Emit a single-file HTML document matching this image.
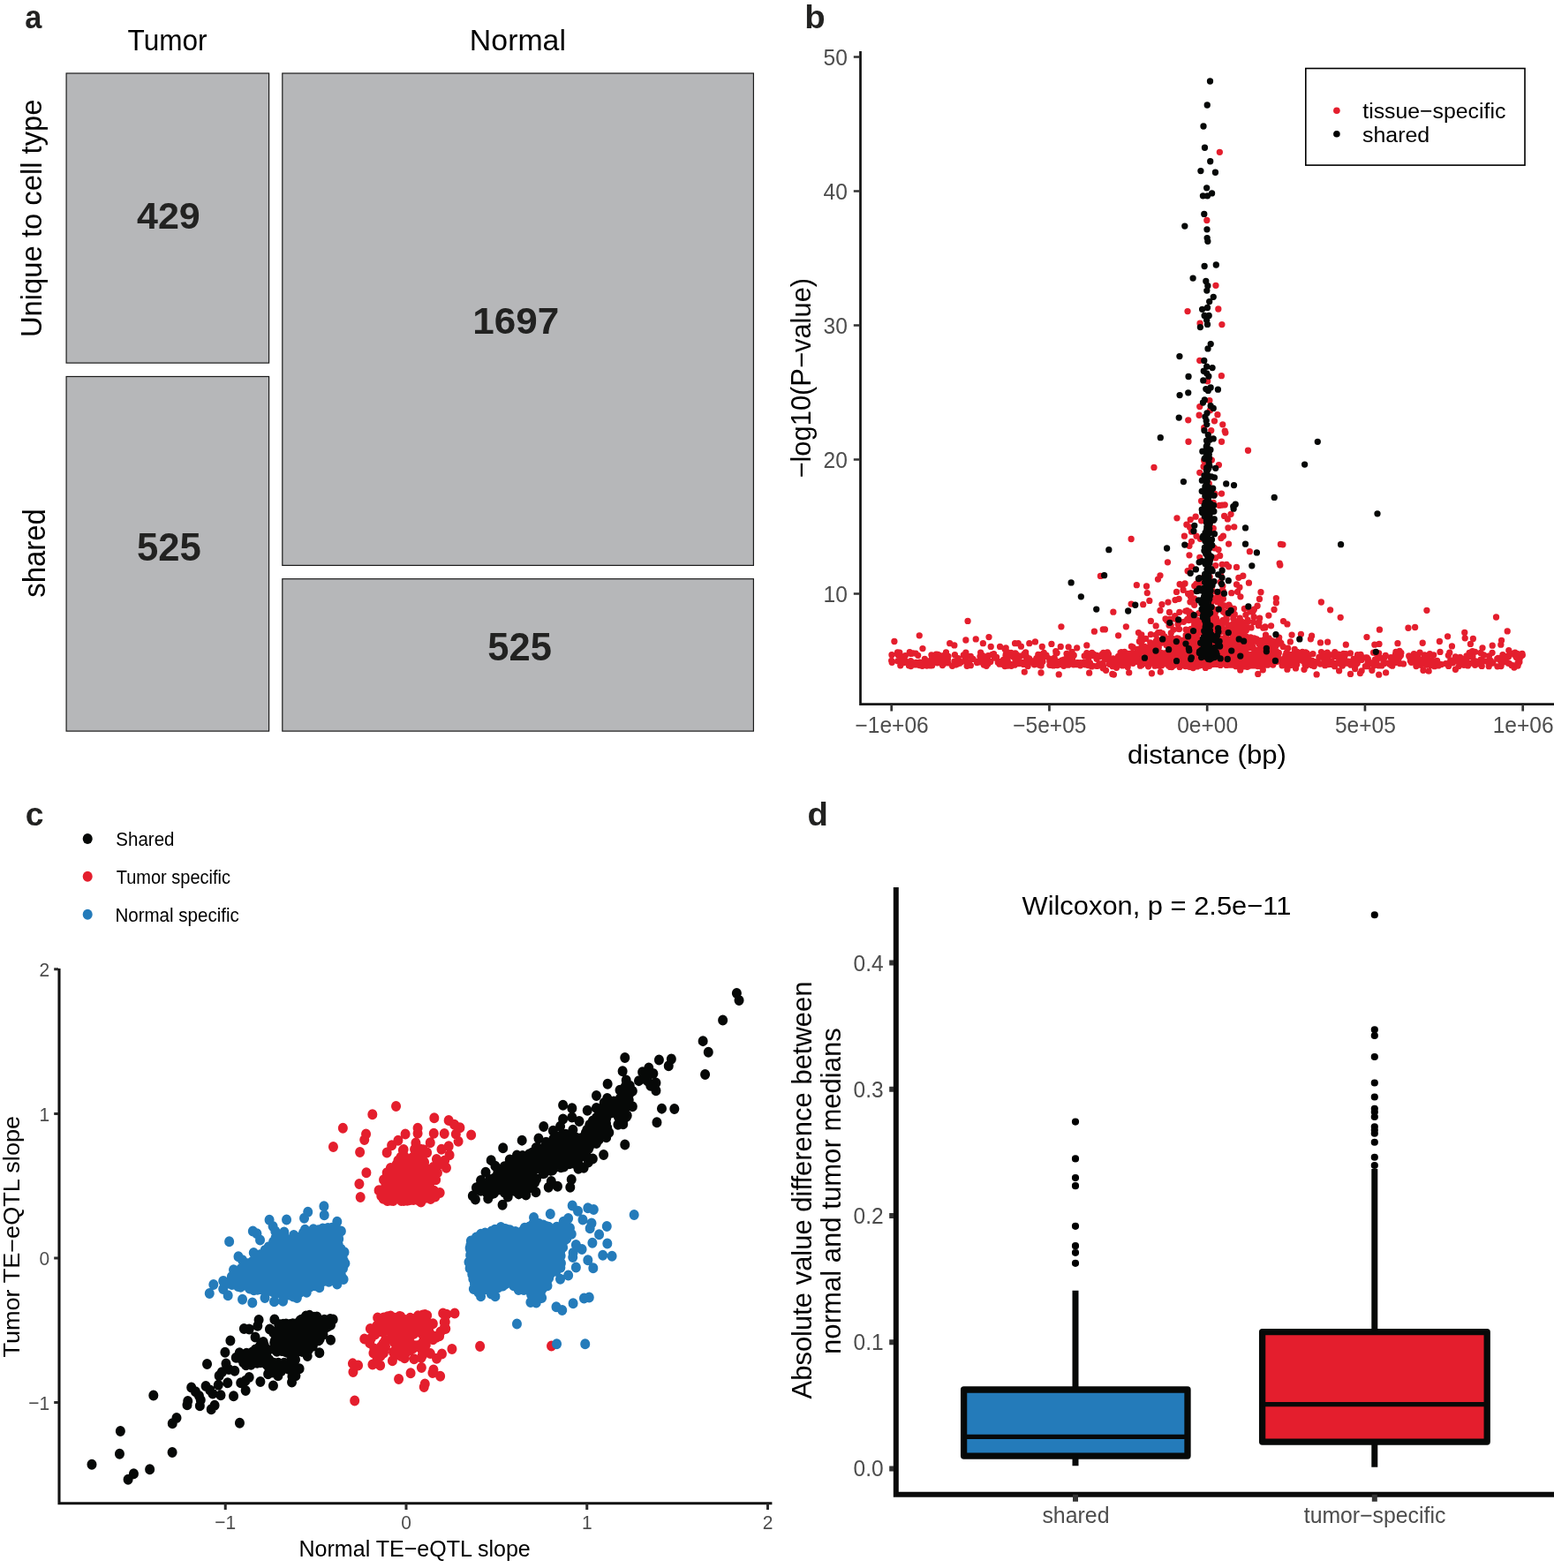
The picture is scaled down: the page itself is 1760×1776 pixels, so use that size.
<!DOCTYPE html>
<html lang="en"><head><meta charset="utf-8"><title>Figure</title>
<style>html,body{margin:0;padding:0;background:#fff}body{width:1760px;height:1776px;overflow:hidden}svg{display:block}text{font-family:"Liberation Sans",sans-serif;white-space:pre}</style></head><body>
<svg width="1760" height="1776" viewBox="0 0 1760 1776">
<rect width="1760" height="1776" fill="#fff"/>
<g id="panel-a">
<rect x="75.1" y="83" width="229.5" height="328.1" fill="#b6b7b9" stroke="#1c1c1c" stroke-width="1.2"/>
<rect x="75.1" y="426.5" width="229.5" height="401.6" fill="#b6b7b9" stroke="#1c1c1c" stroke-width="1.2"/>
<rect x="319.8" y="83" width="533.6" height="557.4" fill="#b6b7b9" stroke="#1c1c1c" stroke-width="1.2"/>
<rect x="319.8" y="655.7" width="533.6" height="172.4" fill="#b6b7b9" stroke="#1c1c1c" stroke-width="1.2"/>
</g>
<g id="panel-b">
<path d="M1333.36 739.55h0M1342.87 745.11h0M1141.4 744.41h0M1577.56 749.79h0M1074.01 743.36h0M1477.86 752.2h0M1019.76 753.82h0M1145.38 754.3h0M1341.64 740.9h0M1381.21 746.55h0M1483.98 750.21h0M1724.32 741.96h0M1516.5 751.01h0M1216.24 742.16h0M1296.09 751.38h0M1695.92 754.8h0M1159.37 750.36h0M1711.92 753.59h0M1460.32 750.35h0M1071.48 738.89h0M1552.52 750.73h0M1081.45 741.65h0M1136.4 747.42h0M1145.72 752.64h0M1470.54 747.86h0M1161.62 738.78h0M1585.05 740.2h0M1160.08 740.7h0M1469.2 738.48h0M1161.9 742.05h0M1244.86 753.59h0M1073.61 750.79h0M1440.12 747.32h0M1696.7 745.32h0M1630.3 752.26h0M1660.34 750.68h0M1145.09 739.28h0M1149.95 739.83h0M1441.73 753.09h0M1036.75 752.89h0M1514.18 741.21h0M1436.67 751.91h0M1525.49 751.03h0M1410.07 748.13h0M1209.92 753.2h0M1020.88 747.45h0M1052.35 748.72h0M1419.25 748.82h0M1647.8 747.31h0M1504.61 752.48h0M1034.15 739.78h0M1511.6 754.65h0M1465.14 742.75h0M1237.65 754.25h0M1400.55 739.95h0M1537.49 741.71h0M1665.06 743.5h0M1654.9 751.02h0M1575.81 748.85h0M1457.1 745.19h0M1445.56 744.25h0M1721.21 745.68h0M1287.51 745.21h0M1324.85 754.19h0M1546.9 744.88h0M1353.85 743.28h0M1365.53 739.61h0M1192.43 749.83h0M1495.22 752h0M1658.4 747.51h0M1648.37 743.81h0M1151.33 741.5h0M1664.5 751.4h0M1427.09 752.55h0M1364.97 741.58h0M1518.94 752.53h0M1130.27 750.26h0M1162.5 744.48h0M1363.11 740.95h0M1713.12 753.57h0M1031.58 754.5h0M1517.09 749.7h0M1576.52 752.56h0M1335.11 741.11h0M1179.22 754.03h0M1460.12 744.41h0M1478.67 738.99h0M1499.78 746.96h0M1521.06 750.31h0M1256.9 746.21h0M1449.56 748.31h0M1576.82 754.16h0M1677.68 752.66h0M1279.17 740.29h0M1580.28 750.44h0M1476 742.89h0M1595.75 742.96h0M1709.77 741.75h0M1238.72 741.24h0M1258.88 747.53h0M1403.57 746.76h0M1029.37 753.74h0M1582.5 749.27h0M1573.93 752.35h0M1379.35 740.94h0M1503.28 750.05h0M1689.54 751.15h0M1386.62 742.77h0M1467.07 740.88h0M1615.05 753.17h0M1619 749.6h0M1419.83 745.96h0M1369.78 754.34h0M1704.06 748.19h0M1583.37 746.7h0M1504.44 745.91h0M1305.68 736.81h0M1202.03 752.71h0M1319.95 739.94h0M1350.67 751.64h0M1452.03 753.83h0M1567.75 751.6h0M1171.94 749.49h0M1263.78 753.07h0M1533.05 746.38h0M1188.65 746.05h0M1322.17 747.98h0M1388.54 751.43h0M1461.65 746.06h0M1619.35 740.66h0M1175.82 741.43h0M1656.22 749.6h0M1670.62 738.33h0M1645.37 750.85h0M1529.96 753.2h0M1605.66 741.77h0M1099.34 743.49h0M1021.73 743.54h0M1662.45 753.94h0M1371.57 746.5h0M1500.63 753.64h0M1085.13 745.7h0M1378.13 752.38h0M1141.31 740.94h0M1719.05 754.1h0M1053.41 750.46h0M1557.3 747.1h0M1378.46 744.88h0M1018.5 740.87h0M1138.97 742.6h0M1299.6 752.08h0M1376.51 740.06h0M1583.82 740.6h0M1370.57 743.36h0M1194.18 745.25h0M1566.82 748.11h0M1651.82 746.49h0M1559.13 748.11h0M1527.13 749.16h0M1345.16 748.93h0M1466.96 750.97h0M1686.33 749.23h0M1482.05 746h0M1288.34 747.6h0M1511.8 738.63h0M1025.36 742.61h0M1193.01 753.97h0M1149.13 753.18h0M1188.89 749.21h0M1373.11 748.93h0M1722.49 741.44h0M1063.63 742.27h0M1041.35 753.58h0M1347.25 746.62h0M1447.21 739.2h0M1310.64 744.94h0M1271.12 743.99h0M1410.98 742.98h0M1221.26 750.76h0M1039.67 742.35h0M1288.6 745.14h0M1044.96 734.57h0M1061.7 750.87h0M1351.45 752.84h0M1384.25 745.82h0M1344.81 742.92h0M1441.8 744.5h0M1335.73 753.94h0M1387.65 747.49h0M1487.88 750.47h0M1426.46 741.96h0M1389.56 733.45h0M1535.48 752.92h0M1266.53 743.5h0M1414.03 744.35h0M1549.15 750.69h0M1711.46 740.03h0M1037.33 750.33h0M1313.86 753.11h0M1397.36 753.37h0M1493.89 744.39h0M1276.57 751.32h0M1255.43 740.96h0M1062.31 741.45h0M1456.22 751.28h0M1313.27 741.44h0M1273.54 738.48h0M1242.31 742.49h0M1669.23 748.71h0M1078.56 754.23h0M1068.53 746.8h0M1500.38 742h0M1063.55 743.88h0M1067.59 742.84h0M1506.58 752.44h0M1265.54 748.75h0M1093.16 745.41h0M1667.61 737.68h0M1323.04 749.77h0M1236.73 739.38h0M1650.52 748.83h0M1271.11 748.27h0M1580.51 741h0M1412.51 742.28h0M1640.6 754.43h0M1701.92 741.53h0M1054.93 741.8h0M1069.26 742.64h0M1653.63 744.34h0M1112.16 744.09h0M1184.99 742.17h0M1382.95 748.29h0M1251.21 746.99h0M1362.96 742.9h0M1601.41 740.72h0M1586.84 739.43h0M1695.73 746.16h0M1518.13 747.84h0M1310.47 742.57h0M1719.55 752.03h0M1155.53 749.98h0M1704.32 749.71h0M1091.32 742h0M1137.65 747.23h0M1427.78 754.54h0M1086.92 751.21h0M1177.79 744.99h0M1169.58 750.16h0M1132.69 749.66h0M1402.08 746.89h0M1195.75 737.61h0M1254.27 739.01h0M1355.03 753.98h0M1688.37 748.45h0M1387.28 750.27h0M1719.01 750.88h0M1016.8 748.67h0M1580.29 744.8h0M1121.78 749.49h0M1195.01 749.72h0M1465.71 752.63h0M1392.29 742.09h0M1009.98 741.7h0M1598.44 750.35h0M1522.75 746.88h0M1623.72 741.78h0M1307.97 754.13h0M1601.48 745.83h0M1385.91 741.07h0M1232.28 753.55h0M1228.19 743h0M1266.91 753.06h0M1291.67 738.85h0M1603.92 754.6h0M1279.4 750.88h0M1413.47 754.63h0M1450.72 748.6h0M1396.01 749.23h0M1290.21 750.57h0M1152.36 749.36h0M1686.59 742.86h0M1246.8 754.12h0M1109.97 743.62h0M1516.84 748.16h0M1609.07 753.31h0M1171.46 752.75h0M1300.71 739.61h0M1315.17 744.12h0M1558.84 751.39h0M1296.31 738.6h0M1575.19 744.76h0M1022.29 749.15h0M1475.57 748.57h0M1374.21 741.18h0M1447.4 742.15h0M1367.8 743.03h0M1716.52 743h0M1608.07 739.21h0M1458.64 753.43h0M1184.38 743.3h0M1245.03 751.66h0M1340.99 738.74h0M1106.23 749.31h0M1411.04 750.44h0M1660.99 742.89h0M1440.28 741.19h0M1215.91 752.87h0M1420.26 753.36h0M1401.81 754.27h0M1138.11 735.17h0M1481.05 743.72h0M1537.92 745.03h0M1585.34 751.51h0M1417.34 746.22h0M1198.04 749.32h0M1469.1 743.73h0M1112.78 748.38h0M1345.93 744.51h0M1503.23 742.4h0M1357.31 742.05h0M1622.07 747.64h0M1414.8 749.57h0M1385.43 739.88h0M1238.94 742.83h0M1548.1 745.01h0M1059.05 747.43h0M1507.25 750.85h0M1228.62 750.91h0M1486.31 750.97h0M1586.37 742.48h0M1415.4 754.07h0M1577.12 745.93h0M1690.85 750.78h0M1223.57 753.77h0M1264.61 754.04h0M1031.32 752.22h0M1347.88 749.93h0M1670.54 753.28h0M1609.79 747h0M1153.84 751.64h0M1640.08 753.05h0M1529.38 739.94h0M1632.49 752.57h0M1065.64 749.73h0M1177.81 741.76h0M1276.09 740.21h0M1431.96 749.83h0M1673.48 750.23h0M1467.83 738.58h0M1324.73 746.04h0M1041.51 750.11h0M1188.9 753.36h0M1213.46 750.74h0M1209.12 751.73h0M1652.17 754.56h0M1339.99 748.45h0M1675.28 751.83h0M1407.66 748.87h0M1480.97 746.27h0M1382.21 753.46h0M1568.01 744.77h0M1572.97 750.91h0M1359.7 745.23h0M1366.76 744.95h0M1521.45 740.4h0M1138.09 754.51h0M1364.71 747.51h0M1197.53 753.6h0M1659.54 745.84h0M1231.99 749.61h0M1454.4 750.43h0M1431.09 741.26h0M1132.04 752.16h0M1504.21 743.98h0M1164.12 754.5h0M1360 738.53h0M1112.66 742.51h0M1037.12 740.11h0M1110.49 749.88h0M1313.32 754.23h0M1723.22 742.69h0M1173.82 745.69h0M1182.29 739.41h0M1269.99 738.61h0M1447.01 748.15h0M1507.09 748.55h0M1644.53 748.32h0M1613.47 741.91h0M1163.44 751.77h0M1403.03 751.44h0M1162.76 749.71h0M1329.58 746.84h0M1627.57 748.48h0M1061.19 748.81h0M1205.83 751.8h0M1197.1 739.56h0M1521.79 748.84h0M1119.07 751.68h0M1558 739.83h0M1023.62 748.46h0M1068.63 752.05h0M1561.6 753.89h0M1291.48 754.13h0M1117.17 754.28h0M1232.9 745.82h0M1106.52 750.5h0M1529.17 752.37h0M1155.85 743.04h0M1299.61 740.51h0M1460.99 741.46h0M1708.51 743.74h0M1667.97 743.43h0M1486.95 740.61h0M1177.21 753.32h0M1315.66 753.81h0M1283.87 746.6h0M1209.63 748.16h0M1349.73 743.82h0M1180.94 749.16h0M1311.79 745.19h0M1511.88 743.25h0M1025.52 748.79h0M1054.13 753.9h0M1242.41 754.41h0M1257.86 748.96h0M1196.78 751.73h0M1345.45 739.05h0M1269 739.25h0M1562.15 744.56h0M1303.66 750.24h0M1603.83 751.43h0M1661.19 752.56h0M1709.49 751.62h0M1172.83 750.93h0M1009.67 748.3h0M1180.6 744.07h0M1402.01 745.55h0M1604.9 751.96h0M1257.56 752.17h0M1522.33 743.47h0M1700.12 753.58h0M1454.7 745.5h0M1273.95 742.44h0M1391.87 750.69h0M1242.02 746.32h0M1099.34 753.67h0M1082.3 752.94h0M1332.78 746.87h0M1125.56 740.53h0M1047.32 746.43h0M1580.06 742.99h0M1248.36 740.9h0M1603.06 747.86h0M1515.87 741.09h0M1583.49 748.58h0M1488.93 751.75h0M1018.83 739.27h0M1704.8 743.45h0M1309.64 748.25h0M1678.23 754.45h0M1520.41 754.1h0M1214.09 738.41h0M1095.14 754.36h0M1398.02 748.64h0M1230.7 740.96h0M1212.44 744.61h0M1557.77 751.35h0M1506.63 741.6h0M1114.32 753.03h0M1678.35 746.74h0M1205.47 746.84h0M1271.31 753.95h0M1055.16 752.21h0M1065.23 746.82h0M1723.96 740.49h0M1356.21 741.48h0M1292.89 745.72h0M1479.99 750.23h0M1326.77 745.76h0M1135.08 752.01h0M1094.16 748.88h0M1549.31 746.31h0M1016.51 738.97h0M1016.91 741.43h0M1577.07 748.21h0M1584.81 744.58h0M1715.92 739.12h0M1297.42 750.67h0M1661.21 745.28h0M1480.05 748.78h0M1657.99 753.25h0M1249.05 751.31h0M1541.87 743.58h0M1136.12 752.44h0M1260.19 754.64h0M1369.34 749.5h0M1394.13 753.2h0M1640.3 742.36h0M1699.23 748.06h0M1515.23 750.29h0M1140.53 738.47h0M1115.21 748.56h0M1470.66 744.63h0M1645.43 747.87h0M1370.98 752.92h0M1486.13 748.45h0M1329.37 744.99h0M1676.96 747.07h0M1720.89 749.64h0M1537.25 751.2h0M1630.98 738.46h0M1361.1 740.94h0M1474.5 742.43h0M1580.93 738.4h0M1055.48 746.1h0M1188.76 747.31h0M1406.93 746.7h0M1182.37 740.69h0M1561.67 739.86h0M1580.28 748.76h0M1080.94 749.09h0M1629.1 753.93h0M1139.28 740.79h0M1717.3 744.42h0M1637.5 751.55h0M1488.24 754.55h0M1252.48 744.41h0M1208.71 743.33h0M1343.45 752.89h0M1683.72 748.9h0M1149.64 746.56h0M1536.9 749.68h0M1301.72 744.38h0M1313.53 751.12h0M1336.52 739.26h0M1257.34 750.92h0M1424.34 740.4h0M1214.41 746.9h0M1335.18 751.37h0M1541.94 747.4h0M1055.03 750.16h0M1325.12 752.37h0M1304.07 740.03h0M1597.31 748.55h0M1072.37 748.62h0M1462.86 748.83h0M1342.29 743.73h0M1720.7 741.13h0M1475.02 738.34h0M1056.72 748.18h0M1159.16 752.44h0M1128.63 744.52h0M1541.04 741.41h0M1533.04 752.83h0M1345.03 740.62h0M1686.23 754.63h0M1260.74 745.99h0M1088.75 749.82h0M1372.75 745.43h0M1102.01 746.35h0M1219.78 750.73h0M1305.78 751.21h0M1120.02 749.59h0M1700.02 754.62h0M1119.24 742.68h0M1519.94 746.04h0M1029.46 749.84h0M1196.01 739.64h0M1244.74 744.01h0M1368.18 751.29h0M1223.63 750.54h0M1272.75 746.93h0M1266.03 747.36h0M1044.54 754.35h0M1168.65 748.66h0M1234.44 751h0M1546.36 754.65h0M1300.54 754.75h0M1434.44 751.61h0M1437.81 749.83h0M1445.79 749.6h0M1365.8 742.36h0M1047.03 750.64h0M1202.68 747.78h0M1625.66 750.08h0M1496.48 738.56h0M1605.21 749.56h0M1596.48 744.2h0M1049.68 754.01h0M1456.91 739.5h0M1466.94 739.38h0M1548.71 754.71h0M1537.37 743.59h0M1714.31 754.25h0M1569.26 742.4h0M1279.91 747.59h0M1093.59 742.68h0M1060.23 741.04h0M1486.7 752.93h0M1093.89 739.06h0M1410.67 753.14h0M1306.43 740.95h0M1097.45 750.32h0M1031.5 748.57h0M1492.52 750.04h0M1084.45 752.05h0M1429.03 749.09h0M1126.48 745.04h0M1381.82 745.32h0M1612.93 745.17h0M1353.5 752.02h0M1509.05 750.49h0M1532.7 750.56h0M1522.71 744.61h0M1410.18 737.97h0M1616.61 743.28h0M1416.31 749.3h0M1117.67 744.67h0M1165.66 745.97h0M1446.25 742.18h0M1426.61 736.77h0M1503.21 739.11h0M1524.21 740.65h0M1530.17 750.69h0M1023.58 750.62h0M1219.11 752.63h0M1356.65 750.1h0M1208.03 740.38h0M1123.8 741.3h0M1392.27 739.63h0M1564.83 753.9h0M1680.58 741.81h0M1176.37 748.69h0M1531.86 749.87h0M1414.84 750.97h0M1690.06 739.28h0M1480.17 739.92h0M1717.99 740.41h0M1053.05 753.68h0M1030.27 738.58h0M1500.24 744.05h0M1382.69 746.1h0M1141.34 748.96h0M1366.78 743.17h0M1358.14 738.75h0M1249.65 739.31h0M1708.81 736.64h0M1624.64 754.66h0M1360.11 743.49h0M1448.34 739.4h0M1031.84 740.46h0M1603.93 746.22h0M1424.91 741.47h0M1708.36 751.13h0M1249.58 754.55h0M1561.23 745.14h0M1134.98 750.62h0M1352.44 749.31h0M1179.83 750.51h0M1383.82 740.33h0M1575.66 753.5h0M1556.41 751.21h0M1286.6 741.77h0M1281.08 745.01h0M1018.92 748.52h0M1055.68 753.72h0M1156.4 732.18h0M1676.87 739.44h0M1110.64 739.2h0M1147.14 743.61h0M1641.77 739.14h0M1334.34 752.82h0M1204.74 754.28h0M1141.53 753.99h0M1229.09 752.77h0M1386.79 745.43h0M1555.55 739.17h0M1067.42 753.53h0M1230.85 739.55h0M1416.57 741.72h0M1706.34 744.85h0M1615.59 751.65h0M1555.86 753.94h0M1125.75 742.65h0M1160.71 751.17h0M1582 744.03h0M1342.47 754.55h0M1227.19 750.5h0M1452.65 747h0M1456.34 748.92h0M1642.75 747.92h0M1664.13 739.36h0M1620.59 753.56h0M1373.85 752.42h0M1131.58 750.92h0M1427.46 739.17h0M1212.66 743.46h0M1257.87 746.6h0M1670.48 748.55h0M1010.18 750.36h0M1420.71 747.17h0M1073.49 746.85h0M1468.81 752.5h0M1326.44 741.6h0M1177.12 743.61h0M1314.58 739.19h0M1360.24 750h0M1612.1 749.15h0M1149.88 741.04h0M1585.1 737.37h0M1589.5 751.89h0M1516.63 759.82h0M1259.84 763.52h0M1160.29 761.07h0M1304.42 762.75h0M1424.73 763.47h0M1569.63 761.87h0M1179.03 762h0M1199.22 763.89h0M1542.11 759.86h0M1233.67 762.17h0M1491.15 763.91h0M1430.3 758.75h0M1477.02 758.35h0M1540.48 762.61h0M1414.08 731.7h0M1358.11 734.61h0M1365.2 753.95h0M1419.68 734.63h0M1306.32 745.83h0M1398.84 734.82h0M1393.13 726.69h0M1380.54 724.04h0M1318.6 739.87h0M1394.79 737.61h0M1348.69 748.61h0M1293 753.34h0M1375.83 724.86h0M1424.56 746.83h0M1422.18 741.81h0M1458.64 734.24h0M1428.24 737.25h0M1293.13 731.14h0M1425.43 746.24h0M1405.73 730.83h0M1323.18 743.03h0M1290.39 726.38h0M1326.82 733.05h0M1386.83 737.61h0M1336.43 734.33h0M1310.25 749.94h0M1401.22 725.24h0M1383.41 744.81h0M1417.58 748.16h0M1387.74 743.61h0M1352.23 732.65h0M1364.13 740.74h0M1398.44 745.7h0M1355.29 728.55h0M1387.49 724.77h0M1373.01 733.14h0M1381.76 734.98h0M1409.43 749.71h0M1338.79 744.31h0M1358.53 730.14h0M1393.05 743.99h0M1424.42 754.6h0M1406.15 743.77h0M1354.19 732.22h0M1376.01 731.87h0M1436.89 750.64h0M1369.96 737.59h0M1403.96 738.05h0M1338.03 728.57h0M1305.33 738.78h0M1394.49 752.05h0M1371.33 730.06h0M1355.45 734.33h0M1421.28 748.25h0M1342.44 726.83h0M1414.5 741.69h0M1322.47 724.27h0M1410.04 750.51h0M1455.93 742.23h0M1378.8 749.16h0M1380.15 726.85h0M1341.94 748.77h0M1421.73 753.74h0M1363.03 735.1h0M1354.03 754.15h0M1360.97 745.83h0M1316.01 746.08h0M1354.27 744.41h0M1369.19 727.86h0M1405.81 727.59h0M1362.21 733.01h0M1370.73 739.47h0M1382.32 728.83h0M1350.29 746.23h0M1378.26 747.37h0M1415.58 733.49h0M1421.23 744.26h0M1362.8 725.4h0M1376.16 723.86h0M1418.48 726.64h0M1297.79 723.38h0M1336.9 736.35h0M1411.42 741.81h0M1417.16 750.48h0M1369.82 748.07h0M1333.39 736.17h0M1297.23 735.27h0M1432.46 743.62h0M1379.01 735.79h0M1281.42 732.13h0M1272.46 749.99h0M1402.36 739.62h0M1353.81 729.35h0M1335.58 725.22h0M1367.88 728.2h0M1394.17 738.99h0M1347.38 725.2h0M1387.63 748.51h0M1397.18 723.8h0M1322.01 741.79h0M1344.77 722.99h0M1381.13 736.54h0M1407.74 738.73h0M1346.17 750.52h0M1325.28 755.46h0M1424.35 736.34h0M1367.42 752.84h0M1358.39 753.94h0M1357.01 753.04h0M1293.63 725.54h0M1284.52 749.81h0M1333.45 749.75h0M1380.73 750.38h0M1332.26 739.4h0M1380.35 743.85h0M1309.34 725.82h0M1418.89 732.77h0M1402.05 750.35h0M1464.34 752.99h0M1437.36 745.11h0M1466.38 738.05h0M1361.54 736.14h0M1329.34 735.7h0M1378.27 746.17h0M1347.95 727.85h0M1236.45 754.95h0M1447.61 745.39h0M1342.22 733.26h0M1404.44 727.54h0M1377.31 742.67h0M1364.34 734.96h0M1343.28 747.61h0M1361.1 742.47h0M1408.84 754.91h0M1395.82 736.81h0M1293.36 733.56h0M1319.52 749.21h0M1388.88 735.05h0M1433.96 734.18h0M1428.84 738.3h0M1336.01 755.46h0M1323.37 738.09h0M1442.2 736.96h0M1366.33 747.13h0M1417.95 742.57h0M1410.97 738.79h0M1342.9 741.66h0M1332.69 742.44h0M1358.17 748.63h0M1369.56 735.64h0M1409.44 735.51h0M1327.04 748.8h0M1386.11 746.29h0M1485.69 753.5h0M1446.06 746.13h0M1323.64 754.34h0M1381.17 725.25h0M1282.36 739.67h0M1384.42 728.65h0M1388.67 744.01h0M1409.72 751.72h0M1373.62 742.22h0M1415.91 729.43h0M1358.64 742.59h0M1464.69 751.69h0M1284.45 743.81h0M1310.03 727.73h0M1399.62 748.19h0M1335.32 748.38h0M1337.9 733.08h0M1288.82 743.8h0M1333.97 730.01h0M1302.38 736.11h0M1410.19 745.45h0M1343.03 728.65h0M1325.85 751.39h0M1388.09 742.6h0M1436.68 727.23h0M1421.21 739.34h0M1363.22 739.18h0M1407.55 734.43h0M1265.54 751.53h0M1348.63 724.71h0M1377.28 736.93h0M1352.56 728.58h0M1364.91 751.82h0M1396.29 730.64h0M1334.22 738.11h0M1325.55 739.91h0M1327.22 729.75h0M1365.2 725.19h0M1310.61 724.5h0M1318.64 751.87h0M1392.41 732.33h0M1351.34 741.08h0M1360.23 731.67h0M1337.29 752.65h0M1419.28 753.97h0M1328.99 753.97h0M1426.15 750.76h0M1259.7 750.65h0M1434.79 746.86h0M1347.75 745.72h0M1378 731.37h0M1466.24 735.28h0M1371.46 722.64h0M1404.89 746.36h0M1466.57 749.01h0M1408.22 724.05h0M1379.84 746.83h0M1300.16 753.62h0M1354.32 741.25h0M1353.26 733.55h0M1291.47 746.25h0M1307.58 750.38h0M1352.81 727.45h0M1355.85 754.9h0M1381.57 739.72h0M1441.74 730.82h0M1370.48 734.17h0M1445.35 737.35h0M1351.16 755.26h0M1333.81 750.99h0M1375.73 741h0M1365.35 756.41h0M1308.09 731.26h0M1370.54 732.18h0M1346.68 753.24h0M1376.43 727.01h0M1344.44 746.25h0M1446.39 726.4h0M1334.31 748.62h0M1407.15 735.54h0M1277.18 755.57h0M1302.74 727.82h0M1386.65 729.14h0M1431.96 724.48h0M1398.44 730.92h0M1369.53 739.11h0M1394.32 749.98h0M1448.82 725.79h0M1407.56 727.07h0M1438.28 730.71h0M1399.86 754.72h0M1381.71 724.29h0M1371.72 732.01h0M1293.33 751.26h0M1325.97 748.83h0M1343.41 727.39h0M1339.59 743.31h0M1430.23 734.02h0M1445.3 731.11h0M1329.09 741.21h0M1368.71 726.4h0M1429.03 729.2h0M1442.79 728.1h0M1316.58 726.27h0M1416.74 743.58h0M1310.18 733.08h0M1391.53 744.73h0M1286.07 749.45h0M1307.02 737.74h0M1351.97 726.66h0M1453.18 732.39h0M1395.39 750.76h0M1312.27 747.51h0M1439.19 746.74h0M1387.12 728.03h0M1357.05 725.22h0M1351.28 756.62h0M1365.5 727.89h0M1326.91 734.38h0M1354.36 734.41h0M1412.76 744.7h0M1323.02 739.84h0M1467.49 756.9h0M1288.36 735.3h0M1432 735.3h0M1347.4 741.05h0M1435.61 753.2h0M1362.86 734.03h0M1413.29 724.85h0M1402.12 752.89h0M1328.21 744.45h0M1332.82 733.11h0M1379.02 742.34h0M1393.89 746.2h0M1398.25 739.11h0M1312.3 733.22h0M1327.61 747.08h0M1275.62 743.47h0M1264.51 756.28h0M1327.68 736.53h0M1367.52 729.28h0M1309.46 752h0M1401.36 734.92h0M1431.28 727.93h0M1427.59 725.77h0M1339.89 725.23h0M1310.57 753.16h0M1427.76 729.2h0M1353.25 741.59h0M1325.26 741.13h0M1385.76 750.65h0M1322.64 746.92h0M1317.83 724.26h0M1461.68 753.54h0M1347.2 755.35h0M1373.47 726.64h0M1373.15 747.34h0M1395.33 735.16h0M1360.41 753.06h0M1407.07 747.75h0M1426.44 730.1h0M1361.12 735.22h0M1295.97 732.05h0M1301.52 737.63h0M1330.51 739.78h0M1321.13 748.33h0M1345.61 736.47h0M1404.42 735.14h0M1390.55 744.24h0M1489.05 749.56h0M1412.56 755.29h0M1388.37 730.76h0M1393.53 735.39h0M1339.46 734.2h0M1378.87 726.31h0M1345.17 751.37h0M1372.37 752.01h0M1363.51 731.51h0M1351.74 737.44h0M1388.99 753.38h0M1328.89 750.16h0M1359.37 736.18h0M1375.03 731.47h0M1326.36 738.65h0M1364.12 742.6h0M1408.74 746.74h0M1378.6 737.2h0M1356.27 726.56h0M1327.08 755.59h0M1260.82 753.53h0M1418.09 728.67h0M1352.72 746.65h0M1357.6 728.51h0M1333.09 748.34h0M1405.1 748.98h0M1399.76 723.51h0M1289.48 739.63h0M1256.42 752.33h0M1374.82 749.07h0M1457.25 751.15h0M1398.38 742.27h0M1373.75 729.17h0M1331.32 751.58h0M1416.72 747.36h0M1390.82 725.24h0M1354.89 733.06h0M1392.33 733.77h0M1337.87 751.53h0M1390.58 724.13h0M1301.83 734.24h0M1302.32 731.8h0M1345.71 731.85h0M1340.26 734.89h0M1386.17 749.37h0M1409.96 730.01h0M1341.87 746.82h0M1387.53 735.69h0M1371.06 749h0M1413.12 732.13h0M1385.86 734.41h0M1422.99 745.51h0M1441.01 725.95h0M1364.15 754.28h0M1415.73 726.46h0M1382.83 740.13h0M1283.18 751.23h0M1385.18 738.05h0M1415.33 731.42h0M1389.25 747.52h0M1419.86 749.99h0M1341.26 737.76h0M1313.12 752.42h0M1430.06 743.09h0M1400.93 747.38h0M1449.29 746.72h0M1325.15 731.72h0M1314.2 744.49h0M1390.51 753.15h0M1468.76 742.42h0M1450.86 728.33h0M1310.64 736.01h0M1345.94 734.31h0M1408.5 742.37h0M1358.4 751.13h0M1417.63 741.59h0M1407.75 744.81h0M1437.75 737.12h0M1397.02 745.53h0M1283.02 732.95h0M1307.08 744.61h0M1408.77 753.64h0M1380.15 739.82h0M1286.88 739.54h0M1419.97 726.17h0M1339.23 740.7h0M1352.58 730.17h0M1249.21 756.83h0M1416.05 727.51h0M1324.05 734.02h0M1360.69 748.92h0M1365.44 752.74h0M1438.75 740.95h0M1321.05 730.66h0M1435.29 737.71h0M1344.41 734.65h0M1371.13 735.54h0M1430.34 754.72h0M1306.94 739.84h0M1381.4 726.57h0M1309.13 732.51h0M1343 732.3h0M1424.11 750.3h0M1383.86 751.93h0M1406.41 754.65h0M1366.71 731.59h0M1406.1 748.59h0M1434.16 749.66h0M1479.26 754.29h0M1380.4 741.59h0M1393.7 737.89h0M1312.95 727.7h0M1425.52 736.34h0M1354.77 731.01h0M1303.28 738.7h0M1432.52 730.07h0M1304.11 747.61h0M1365.67 737.09h0M1403.91 733.18h0M1384.26 723.24h0M1298.11 734.24h0M1403.03 735.59h0M1333.89 737.15h0M1393.04 750.48h0M1331.5 724.95h0M1405.22 755.25h0M1411.1 724.13h0M1398.78 740.32h0M1294.43 732.47h0M1393.38 748.17h0M1356.88 717.44h0M1406.41 716.48h0M1346.61 727.29h0M1363.24 654.17h0M1334.52 712.33h0M1332.26 727.47h0M1356.5 707.88h0M1349.13 719.05h0M1352.62 677.94h0M1345.78 719.87h0M1354.84 661.35h0M1343.61 723.71h0M1330.65 700.89h0M1322.63 703.55h0M1410.91 696.29h0M1348.25 675.4h0M1387.05 703.84h0M1334.08 706.95h0M1461.35 726.97h0M1341.6 729.34h0M1309.29 719.15h0M1363.02 729.01h0M1448.69 722.12h0M1382.5 710.12h0M1378.13 690.37h0M1344.47 691.75h0M1357.44 714.29h0M1399.87 721.38h0M1413.16 703.96h0M1396.58 696.47h0M1382.1 659.21h0M1404.36 707.15h0M1343.13 719.51h0M1402.27 719.04h0M1351.17 729.44h0M1383.32 715.37h0M1395.71 726.8h0M1371.79 702.94h0M1382.53 671.92h0M1420.14 698.67h0M1378.55 681.7h0M1417.06 710.89h0M1426.01 704.75h0M1398.71 726.83h0M1374.06 702.82h0M1433.52 719.26h0M1410.34 726.74h0M1335.8 693.3h0M1353.82 724.18h0M1303.4 718.59h0M1367.3 697.11h0M1395.91 709.32h0M1359.18 708.08h0M1394.72 671.71h0M1408.49 717.74h0M1340.38 727.73h0M1382.69 685.94h0M1324.42 693.39h0M1342.65 724.28h0M1373.93 701.35h0M1384.8 702.71h0M1406.1 703.94h0M1321.47 725.37h0M1365.64 706.49h0M1362.09 717.2h0M1348.87 725.72h0M1425.03 727.85h0M1344.56 726h0M1326.19 708.33h0M1386.49 712.75h0M1357.49 656.23h0M1381.26 722.93h0M1333.23 722.83h0M1383.32 678.81h0M1358.55 711.65h0M1355.44 714.76h0M1335.51 712.55h0M1351.35 717.95h0M1315.19 728.34h0M1423.16 723.91h0M1340.11 668.26h0M1364.98 679.13h0M1344.44 728.72h0M1311.02 729.32h0M1349.15 671.55h0M1367.06 724.12h0M1328.91 713.29h0M1376.28 694.43h0M1324.94 701.23h0M1395.66 707.48h0M1382.41 681.97h0M1321.73 702.95h0M1391.85 685.03h0M1397.64 728.85h0M1372.48 688.15h0M1425.3 708.58h0M1373.28 715.46h0M1316.5 717.47h0M1368.61 715.15h0M1347.93 681.85h0M1377.18 720.95h0M1371.58 726.72h0M1364.05 725.71h0M1393.1 691.26h0M1354.98 721.23h0M1358.68 660.43h0M1371.67 682.27h0M1385.42 669.57h0M1385.98 685.74h0M1381.72 715.78h0M1371.72 686.76h0M1447.68 728.91h0M1357.76 694.55h0M1361.7 682.62h0M1395.2 695.1h0M1375.99 701.54h0M1353.95 714.82h0M1420.39 690.22h0M1404.91 675.85h0M1342.9 692.09h0M1371.51 710.69h0M1314.11 716.44h0M1391.29 707.94h0M1344.73 701.33h0M1364.8 710.37h0M1339.44 663.19h0M1352.68 685.26h0M1375.41 713.66h0M1399.98 726.68h0M1378.32 717.72h0M1333.54 702.21h0M1376.22 706.47h0M1416.44 728.44h0M1292.03 722.11h0M1413.08 702.05h0M1419.53 704.56h0M1403.95 720.75h0M1369.26 700.83h0M1323.61 726.84h0M1389.21 701.52h0M1336.13 661.73h0M1401.33 726.56h0M1369.64 711.84h0M1385.4 692.81h0M1409.96 728.67h0M1394.37 716.32h0M1383.08 704.54h0M1349.36 702.16h0M1363.87 719.86h0M1330.4 726.93h0M1392.68 686.93h0M1324.73 723.03h0M1309.19 708.94h0M1293.28 722.61h0M1342.03 660.89h0M1332.51 670.38h0M1426.68 700.18h0M1373.48 677.4h0M1407.85 652.24h0M1397.49 689.29h0M1411.35 714.11h0M1334.89 705.75h0M1379.92 672.15h0M1370.17 653.34h0M1363.76 695.65h0M1382.84 652.08h0M1415.04 722.63h0M1372.49 700.12h0M1388.73 720.04h0M1419.29 691.97h0M1411.01 708.34h0M1409.64 708.93h0M1330.96 679.59h0M1371.31 695.12h0M1367.22 676.22h0M1399.74 724.79h0M1383.58 724.62h0M1374.26 679.32h0M1398.29 695.71h0M1343.12 713.07h0M1382.16 677.01h0M1360.62 728.52h0M1386.47 693.51h0M1336.09 704.46h0M1385.4 678.34h0M1322.96 682.05h0M1390.55 716.22h0M1370.14 674.69h0M1407.44 717.12h0M1359.31 727.46h0M1390.02 712.28h0M1399.42 715.09h0M1330.75 697.53h0M1402.34 720.63h0M1401.55 670.29h0M1391.9 716.61h0M1394.76 710.01h0M1354.77 701.67h0M1407.28 713.84h0M1334.35 723.03h0M1402.05 710.62h0M1390.09 686.77h0M1314.04 725.71h0M1365.29 715.2h0M1324.12 708.2h0M1377.54 710.45h0M1340.52 704.35h0M1375.3 721.44h0M1409.35 689.44h0M1346.36 702.57h0M1347.07 692.8h0M1379.65 704.94h0M1370.65 707.37h0M1363.13 712.02h0M1404.24 700.26h0M1380.47 713.22h0M1384.3 706.88h0M1400.51 661.91h0M1358.02 703.09h0M1425.6 706.89h0M1371.5 662.99h0M1372.66 664.53h0M1377.39 691.26h0M1411.69 709.83h0M1365 667.57h0M1365.67 709.56h0M1325.41 724.38h0M1410.4 720.29h0M1396.78 700.81h0M1377.57 715.62h0M1437.07 723.02h0M1370.12 669.95h0M1346.6 722.4h0M1352.62 717.58h0M1374.43 707.97h0M1403.4 702.65h0M1388.36 695.23h0M1320.02 700.92h0M1364.43 712.63h0M1367.34 719.94h0M1359.29 724.83h0M1326.28 716.91h0M1371.91 659.76h0M1347.26 696.02h0M1405.38 718.49h0M1335.17 678.35h0M1311.62 716.58h0M1363.27 716.88h0M1365.92 719.32h0M1384.2 705.64h0M1376.93 722.79h0M1355.67 719.36h0M1386.95 722.87h0M1352.68 707.33h0M1345.14 713.7h0M1415.85 692.81h0M1384.24 726.13h0M1345.59 672.49h0M1390.64 696.12h0M1379.21 674.75h0M1349.44 694.98h0M1403.92 665.18h0M1353.35 721.99h0M1356.76 710.1h0M1369.65 715.98h0M1367.5 689.66h0M1327.99 723.31h0M1392.56 714.02h0M1368.98 704.26h0M1292.82 719.02h0M1416.42 721.8h0M1374.96 717.27h0M1387.85 701.52h0M1420.41 722.84h0M1329.71 729.08h0M1431.67 725.46h0M1329.29 727.61h0M1373.58 669.9h0M1410.07 714.88h0M1385.09 704.01h0M1383.71 669.3h0M1396.19 719.45h0M1361.58 713.89h0M1384.8 663.72h0M1411.6 721.08h0M1397.58 707.43h0M1363.94 706.34h0M1348.92 712.38h0M1318.98 720.94h0M1352.76 663.55h0M1372.08 707.16h0M1434.17 727.87h0M1371.29 720.94h0M1377.41 700.21h0M1401.28 705.87h0M1430.74 711.18h0M1401.53 714.81h0M1381.35 172.3h0M1366.82 249.49h0M1376.96 323.31h0M1379.83 350h0M1345.03 352.53h0M1359.05 366.22h0M1383.89 367.57h0M1358.72 408.28h0M1383.38 425.68h0M1367.67 431.86h0M1369.9 453.54h0M1358.75 460.6h0M1370.52 464.68h0M1358.13 470.26h0M1378.94 469.64h0M1345.74 475.83h0M1375.47 476.82h0M1384.76 480.79h0M1387.24 488.22h0M1387.86 490.08h0M1371.75 487.6h0M1363.7 484.5h0M1345.99 500.23h0M1383.52 500.23h0M1413.5 510.27h0M1372.37 521.04h0M1380.42 526.62h0M1363.7 521.66h0M1363.08 528.48h0M1306.97 529.47h0M1358.75 535.29h0M1369.28 547.68h0M1376.09 559.44h0M1383.52 559.07h0M1360.61 567.5h0M1374.23 569.35h0M1381.04 572.45h0M1384.14 572.08h0M1387.24 571.83h0M1332.98 586.82h0M1348.22 588.55h0M1354.16 585.21h0M1343.88 594.13h0M1347.6 597.22h0M1360.61 589.79h0M1386.62 584.47h0M1394.05 582.36h0M1390.33 587.93h0M1371.75 589.79h0M1374.23 598.46h0M1390.95 597.84h0M1397.77 596.85h0M1341.41 607.13h0M1349.46 602.18h0M1355.03 607.13h0M1359.37 610.23h0M1385.38 607.13h0M1382.9 609.61h0M1349.46 613.33h0M1346.98 618.28h0M1391.57 616.05h0M1375.47 620.76h0M1380.05 622.62h0M1415.36 624.72h0M1346.98 628.81h0M1381.66 629.43h0M1376.71 631.91h0M1322.45 636.86h0M1358.75 631.29h0M1349.46 641.82h0M1345.12 646.77h0M1376.71 640.58h0M1384.14 639.34h0M1389.1 639.34h0M1391.57 641.82h0M1400.49 642.44h0M1449.17 638.1h0M1450.41 616.42h0M1246.37 652.42h0M1313.99 651.84h0M1311.48 656.09h0M1287.33 662.66h0M1298.53 664.01h0M1299.3 671.55h0M1301.82 680.43h0M1294.67 684.68h0M1281.14 684.1h0M1260.86 693.18h0M1496.37 681.98h0M1506.61 690.87h0M1518.2 699.37h0M1427.98 670.77h0M1445.36 677.53h0M1445.36 682.75h0M1443.04 690.48h0M1436.86 697.05h0M1201.93 709.8h0M1239.41 715.21h0M1251.39 712.89h0M1275.35 709.8h0M1289.45 716.56h0M1452.9 616.87h0M1281.14 610.49h0M1414.45 660.15h0M1402.86 654.35h0M1424.11 686.23h0M1426.43 678.5h0M1453.48 703.62h0M1457.92 706.9h0M1432.81 709.8h0M1439.57 708.83h0M1303.36 703.42h0M1315.92 684.68h0M1313.99 691.45h0M1012.9 726.48h0M1041.26 719.83h0M1096.07 703.43h0M1093.86 725h0M1105.23 723.97h0M1120 721.6h0M1249.27 712.89h0M1075.68 728.7h0M1080.86 730.91h0M1149.55 728.7h0M1153.24 728.7h0M1165.8 728.7h0M1172.45 726.92h0M1190.92 729.43h0M1180.28 732.39h0M1132.56 732.39h0M1139.21 733.87h0M1122.22 732.39h0M1113.36 728.7h0M1201.26 732.39h0M1210.12 732.83h0M1219.72 733.87h0M1230.8 730.91h0M1615.91 691.32h0M1694.51 699h0M1594.94 711.26h0M1602.62 710.52h0M1562.43 713.18h0M1707.21 714.96h0M1547.96 721.6h0M1639.55 720.87h0M1658.76 716.43h0M1659.2 722.79h0M1668.36 723.52h0M1630.39 726.48h0M1611.19 728.25h0M1700.56 725.3h0M1699.83 730.17h0M1665.4 729.43h0M1485.61 720.27h0M1484.43 723.82h0M1644.43 731.95h0M1690.22 731.21h0M1679 733.87h0M1503.64 727.22h0M1495.51 727.96h0M1524.32 730.17h0M1582.97 728.7h0M1561.99 729.43h0M1556.82 730.17h0M1529.49 763.41h0M1534.66 757.5h0M1561.7 764.15h0M1553.87 759.28h0M1714.89 756.03h0M1618.13 760.16h0M1611.92 759.28h0M1648.41 758.24h0M1266.59 719.78h0M1432.79 710.91h0M1449.78 640h0M1473.42 718.3h0M1463.08 719.04h0M1252.56 759.37h0M1261.42 764.1h0M1278.71 761.88h0M1314.31 761.14h0M1457.91 758.19h0M1404.72 758.92h0" stroke="#e41e2d" stroke-width="7.3" stroke-linecap="round" fill="none"/>
<path d="M1369.91 498.32h0M1367.35 502.42h0M1366.28 505.69h0M1370.89 509.39h0M1367.78 510.76h0M1367.09 514.88h0M1366.33 517.15h0M1365.08 518.33h0M1369.59 518.95h0M1364.13 519.56h0M1369.16 523.97h0M1369.1 525.1h0M1369.88 527.8h0M1366.77 529.58h0M1368.81 530.52h0M1367.57 532.49h0M1366.39 532.86h0M1367.44 537.84h0M1363.99 538.75h0M1371.97 539.95h0M1366.74 541.88h0M1361.36 544.22h0M1367.2 545.17h0M1366.69 547.2h0M1367.28 550.33h0M1364.9 551.2h0M1368.5 551.66h0M1373.7 553.2h0M1366.99 553.66h0M1372.14 554.9h0M1367.46 556.56h0M1365 557.56h0M1368.3 558.79h0M1370.39 559.91h0M1365.9 559.87h0M1374.9 561.18h0M1364.82 561.67h0M1366.91 562.16h0M1368.07 562.68h0M1367.41 564.27h0M1368.62 563.87h0M1368.21 565.25h0M1368.3 566.44h0M1367.12 568.22h0M1365.14 569.24h0M1370.8 570.42h0M1367.93 570.82h0M1364.07 572.35h0M1366.19 573.03h0M1369.99 573.49h0M1368.62 574.87h0M1367.4 576.86h0M1369.06 578.24h0M1370.24 579.04h0M1366.41 579.87h0M1368.25 580.54h0M1361.59 580.55h0M1366.82 582.12h0M1370.03 583.01h0M1367.97 583.68h0M1364.23 584.68h0M1367.59 585.98h0M1366.42 587h0M1369.5 588.21h0M1374.48 589.18h0M1366.45 589.7h0M1370.01 590.63h0M1368.08 591.69h0M1366.44 591.88h0M1370.23 593.22h0M1367.85 594.28h0M1367.93 595.48h0M1369.08 595.65h0M1366.81 596.78h0M1368.64 597.63h0M1366.73 598.68h0M1369.7 598.57h0M1368.8 600.13h0M1367.67 600.5h0M1366.21 601.49h0M1368.45 602.52h0M1365.08 603.33h0M1370.04 603.61h0M1365.82 604.82h0M1366.67 606.47h0M1362.7 607.26h0M1366.45 607.67h0M1362.18 608.96h0M1368.37 609.86h0M1372.47 611.15h0M1367.08 612.27h0M1364.89 612.75h0M1366.19 614.03h0M1368.04 613.67h0M1368.04 615.97h0M1367.86 617.16h0M1372.81 617.59h0M1366.5 618.78h0M1364.42 620.05h0M1369.79 621.01h0M1366.22 621.52h0M1367.37 621.71h0M1365.21 622.66h0M1366.68 623.06h0M1363.93 623.83h0M1367.76 624.82h0M1366.44 624.54h0M1368.21 625.77h0M1365.69 627.34h0M1366.99 627.79h0M1369.46 628.71h0M1371.75 630.49h0M1367.55 629.71h0M1370.93 631.81h0M1367.9 633.04h0M1369.5 632.65h0M1368.07 634.15h0M1370.41 634.86h0M1361.28 635.56h0M1362.64 635.95h0M1364.1 636.66h0M1366.38 637.38h0M1369.94 637.7h0M1365.17 638.82h0M1367.69 640.3h0M1368 641.31h0M1369.11 642.56h0M1368.12 644.2h0M1366.93 645.09h0M1371.78 644.69h0M1368.43 645.58h0M1373.19 646.72h0M1369.29 647.87h0M1366.9 649.41h0M1368.76 649.68h0M1364.58 650.49h0M1365.59 650.89h0M1367.32 652.26h0M1365.92 653.32h0M1368.22 652.71h0M1368.96 653.52h0M1364.97 655.34h0M1368.77 654.63h0M1366.17 655.74h0M1367.4 657.04h0M1368.09 657.95h0M1374.98 658.54h0M1367.46 658.99h0M1364.58 659.57h0M1365.96 660.98h0M1367.96 660.56h0M1367.82 662.46h0M1373.06 662.76h0M1368.54 663.42h0M1367.6 663.99h0M1365.58 665.02h0M1367.11 664.89h0M1363.1 666.37h0M1370.48 666.56h0M1368.73 668.04h0M1361.1 668.97h0M1371.14 669.04h0M1365.2 670.35h0M1368.45 671.02h0M1364.23 672.23h0M1367.61 673.43h0M1366.02 675.39h0M1370.6 674.54h0M1363.55 676h0M1368.29 675.52h0M1364.09 676.9h0M1369.76 678.48h0M1366.17 678.68h0M1361.28 679.72h0M1366.66 679.74h0M1368.72 680.73h0M1366.62 681.44h0M1360.85 683.16h0M1367.51 683.42h0M1366.73 684.65h0M1368.6 685h0M1363.78 686.09h0M1365.83 685.97h0M1367.56 686.82h0M1366.47 688h0M1372.03 687.55h0M1369.05 689.15h0M1366.12 690.15h0M1361.05 690.06h0M1369.49 691.91h0M1367.55 692.57h0M1362.85 693.05h0M1366.96 694.31h0M1370.58 694.19h0M1365.4 695.48h0M1368.42 696.19h0M1366.84 697.3h0M1364.32 696.97h0M1362.42 697.59h0M1365.23 698.22h0M1362.26 698.97h0M1364.77 699.84h0M1365.43 701.32h0M1367.2 700.62h0M1367.3 702.37h0M1364.56 702.76h0M1366.09 702.65h0M1366.6 704.48h0M1367.58 704.08h0M1366.69 705.48h0M1365.59 706.47h0M1367.55 706.59h0M1369.05 707.63h0M1370.82 708.62h0M1366.46 709.4h0M1365.17 710.27h0M1368.73 711.17h0M1365.13 712.49h0M1368.02 713.35h0M1370.46 714.17h0M1366.88 714.2h0M1368.48 714.53h0M1363.79 714.69h0M1379.87 715.56h0M1364.81 715.67h0M1367.42 716.51h0M1365.57 717.21h0M1368.8 718.09h0M1370.68 718.19h0M1365.59 719.33h0M1372.03 719h0M1368.44 719.97h0M1378.58 719.94h0M1364.87 721.4h0M1366.02 721.05h0M1363.31 721.76h0M1372.49 721.7h0M1367.57 722.81h0M1364.71 723.14h0M1362.38 723.53h0M1368.57 723.88h0M1363.68 725.32h0M1376.2 725.32h0M1381.1 726.31h0M1370.09 725.67h0M1366.29 726.85h0M1368.89 726.91h0M1359.72 728.13h0M1367.34 728.11h0M1369.51 729.24h0M1363.26 728.91h0M1365.23 730.16h0M1379.71 729.66h0M1369.67 730.55h0M1367.86 730.99h0M1365.78 731.71h0M1376.24 733.38h0M1363.04 733.34h0M1364.79 733.57h0M1371.07 734.27h0M1373.05 734.3h0M1363.95 734.99h0M1360.42 736.43h0M1369.08 736h0M1374.84 736.7h0M1358.61 737.88h0M1363.89 737.86h0M1358.35 739.49h0M1377.29 738.53h0M1361.36 740h0M1372.41 740.19h0M1370.07 740.9h0M1366.85 741.14h0M1378.16 741.31h0M1362.43 741.82h0M1370.63 742.42h0M1369.68 743.41h0M1363.87 742.65h0M1361.57 743.4h0M1360.6 744.49h0M1362.73 743.52h0M1369.54 745.47h0M1375.47 744.53h0M1367.19 744.7h0M1368.48 745.51h0M1371.85 745.8h0M1370.31 746.87h0M1368.51 746.58h0M1370.5 92h0M1367.25 119h0M1363 143h0M1364.46 167.23h0M1370.71 182.77h0M1359.9 193.58h0M1376.45 195.27h0M1366.66 212.84h0M1372.57 218.92h0M1367.5 221.79h0M1362.43 221.79h0M1363.78 242.4h0M1341.82 256.08h0M1366.99 259.8h0M1367.16 269.59h0M1367.84 273.31h0M1364.12 301.52h0M1377.3 300h0M1351.11 315.03h0M1365.81 318.41h0M1367.84 323.65h0M1366.82 329.05h0M1374.26 336.32h0M1369.7 341.55h0M1367.5 348.48h0M1361.59 350.34h0M1364.12 357.43h0M1369.19 357.43h0M1366.66 362.5h0M1367.5 367.4h0M1359.39 370.61h0M1371.22 389.53h0M1368.01 394.93h0M1335.91 403.55h0M1363.78 408.45h0M1366.66 415.2h0M1373.07 416.55h0M1363.28 420.27h0M1366.66 422.8h0M1368.85 426.18h0M1346.05 426.52h0M1362.77 430.91h0M1365.81 440.53h0M1368.29 442.39h0M1371.13 438.92h0M1379.43 441.15h0M1345.74 444.86h0M1336.08 447.59h0M1364.32 452.92h0M1362.46 456.01h0M1371.13 459.73h0M1374.23 462.45h0M1367.05 467.78h0M1364.94 472.12h0M1366.18 476.45h0M1366.8 480.54h0M1335.21 473.11h0M1363.95 487.6h0M1368.29 492.55h0M1374.23 496.89h0M1366.55 499.12h0M1314.28 495.65h0M1367.05 506.8h0M1361.84 511.13h0M1369.28 514.85h0M1376.71 530.33h0M1375.47 540.86h0M1340.41 545.57h0M1388.72 547.92h0M1397.52 549.53h0M1361.23 556.35h0M1372.37 560.68h0M1443.23 563.41h0M1399.25 571.21h0M1396.78 573.69h0M1397.15 576.17h0M1374.6 572.45h0M1361.23 577.16h0M1374.85 579.26h0M1375.22 587.93h0M1352.8 595.37h0M1351.93 601.56h0M1410.53 597.97h0M1375.47 604.66h0M1341.78 617.04h0M1410.53 616.18h0M1321.59 621.01h0M1423.41 625.96h0M1417.83 640.83h0M1358.13 636.86h0M1354.41 644.91h0M1384.14 646.15h0M1348.22 649.25h0M1492.31 500.37h0M1477.63 526.07h0M1518.59 616.68h0M1255.83 622.67h0M1250.62 651.65h0M1213.14 659.95h0M1224.34 675.8h0M1241.73 690.09h0M1285.78 685.26h0M1277.67 692.02h0M1413.87 687h0M1334.66 701.88h0M1324.81 705.36h0M1352.24 696.66h0M1444.98 718.69h0M1471.83 723.9h0M1316.69 723.9h0M1332.34 726.61h0M1308.96 737.04h0M1323.65 735.69h0M1296.41 745.15h0M1332.53 748.63h0M1403.25 723.9h0M1408.66 726.22h0M1434.35 734.34h0M1434.35 737.81h0M1394.74 737.04h0M1404.79 743.03h0M1444.4 748.44h0M1382.19 745.93h0M1390.3 746.51h0M1380.26 690.09h0M1391.27 694.34h0M1394.17 691.45h0M1386.44 672.13h0M1383.54 661.5h0M1379.68 650.87h0M1391.27 657.64h0M1358.42 654.74h0M1356.49 669.23h0M1357.46 679.85h0M1342.97 729.12h0M1346.83 736.85h0M1348.76 746.51h0M1391.27 716.56h0M1381.61 732.02h0M1558.3 738.3h0M1560 581.8h0M1349.32 744.89h0M1346.37 734.55h0M1345.63 720.96h0M1351.54 714.6h0M1379.61 711.65h0M1384.04 654.33h0M1378.87 670.29h0M1357.45 655.51h0M1355.23 669.55h0M1358.19 666.59h0" stroke="#060807" stroke-width="7.3" stroke-linecap="round" fill="none"/>
<path d="M974.5 58V799M973.2 797.6H1760" stroke="#111" stroke-width="2.7" fill="none"/>
<path d="M966.8 672.5H974M966.8 520.5H974M966.8 368.5H974M966.8 216.5H974M966.8 64.5H974M1009.7 798V805.6M1188.45 798V805.6M1367.2 798V805.6M1545.95 798V805.6M1724.7 798V805.6" stroke="#333" stroke-width="2.7" fill="none"/>
<text transform="translate(959.9 682) scale(0.9700 1)" font-size="25.3" text-anchor="end" fill="#4d4d4d">10</text>
<text transform="translate(959.9 530) scale(0.9700 1)" font-size="25.3" text-anchor="end" fill="#4d4d4d">20</text>
<text transform="translate(959.9 378) scale(0.9700 1)" font-size="25.3" text-anchor="end" fill="#4d4d4d">30</text>
<text transform="translate(959.9 226) scale(0.9700 1)" font-size="25.3" text-anchor="end" fill="#4d4d4d">40</text>
<text transform="translate(959.9 74) scale(0.9700 1)" font-size="25.3" text-anchor="end" fill="#4d4d4d">50</text>
<text transform="translate(1010.1 830) scale(0.9700 1)" font-size="25.3" text-anchor="middle" fill="#4d4d4d">−1e+06</text>
<text transform="translate(1188.85 830) scale(0.9700 1)" font-size="25.3" text-anchor="middle" fill="#4d4d4d">−5e+05</text>
<text transform="translate(1367.6 830) scale(0.9700 1)" font-size="25.3" text-anchor="middle" fill="#4d4d4d">0e+00</text>
<text transform="translate(1546.35 830) scale(0.9700 1)" font-size="25.3" text-anchor="middle" fill="#4d4d4d">5e+05</text>
<text transform="translate(1725.1 830) scale(0.9700 1)" font-size="25.3" text-anchor="middle" fill="#4d4d4d">1e+06</text>
<rect x="1478.8" y="77.5" width="248.2" height="109.6" fill="#fff" stroke="#000" stroke-width="1.6"/>
<path d="M1513.9 125.2h0" stroke="#e41e2d" stroke-width="7.6" stroke-linecap="round" fill="none"/>
<path d="M1513.9 151.8h0" stroke="#000" stroke-width="7.6" stroke-linecap="round" fill="none"/>
</g>
<g id="panel-c">
<path transform="scale(0.92 1)" d="M384.91 1492.6h0M376.15 1505.52h0M339.74 1511.76h0M338.17 1508.51h0M367.66 1525.83h0M379.29 1506.88h0M400.73 1502.17h0M358.82 1525.36h0M349.09 1515.03h0M384 1505.81h0M377.05 1492.17h0M387.16 1508.25h0M359.25 1515.2h0M369.85 1502.61h0M353.92 1514.71h0M375.33 1527.96h0M390.9 1502.09h0M410 1494.61h0M367.18 1522.76h0M346.9 1510.95h0M338.31 1518.85h0M393.57 1514.65h0M402.02 1503.23h0M388.29 1515.59h0M379.5 1509.51h0M371.44 1518.67h0M339.94 1520.31h0M397.94 1501.95h0M364.71 1518.86h0M337.04 1509.75h0M339.81 1523.25h0M345.17 1500.32h0M365.1 1527.8h0M341.46 1509.2h0M377.18 1528.32h0M356.53 1507.7h0M362.65 1528.36h0M408.29 1496.06h0M348.74 1499.63h0M353.1 1510.77h0M380.2 1500.98h0M363.45 1514.36h0M374.59 1516.62h0M386.84 1491.79h0M365.21 1506.98h0M343.21 1517.35h0M343.05 1505.43h0M337.26 1527.93h0M382.1 1495.95h0M354.54 1504.71h0M370.82 1510.72h0M361.42 1501.07h0M398.47 1496.52h0M375.57 1495.87h0M376.7 1490.6h0M355.21 1505.56h0M348.05 1523.42h0M375.9 1523.73h0M360.44 1499.23h0M352.59 1512.21h0M355.06 1519.92h0M352.12 1499.4h0M385.07 1524.64h0M341.78 1518.51h0M392.47 1510.47h0M348.92 1524.17h0M360.65 1524.69h0M365.9 1531.12h0M390.54 1496.9h0M346.46 1525.82h0M362.02 1513.58h0M375.44 1530.54h0M368.37 1527.81h0M398.26 1498.71h0M354.51 1502.31h0M353.64 1515.24h0M355.08 1507.87h0M345.3 1529.5h0M362.27 1509.59h0M367.37 1529.84h0M373.54 1512.84h0M368.85 1497.48h0M348.45 1510.27h0M390.57 1513.92h0M360.15 1512.24h0M377.64 1523.96h0M343.4 1514.09h0M354.25 1501.61h0M394.16 1511.78h0M378.12 1522.89h0M381.99 1511.68h0M374.34 1519.93h0M369.78 1512.9h0M371.74 1530.88h0M407.1 1500.84h0M399.32 1495.45h0M344.58 1508.89h0M340.89 1518.9h0M347.09 1520.96h0M385.62 1495.71h0M352.05 1531.37h0M365.66 1510.87h0M347.62 1508.42h0M374.6 1504.35h0M350.23 1503.44h0M377.53 1508.81h0M382.86 1511.98h0M343.3 1501.11h0M338.33 1523.73h0M367.49 1529.56h0M397.72 1500.8h0M346.7 1529.9h0M378.79 1520.26h0M387.75 1508.15h0M340.84 1530.75h0M383.66 1524.72h0M341.7 1527.13h0M340.39 1527.42h0M369.89 1504.35h0M375.46 1499.91h0M359.09 1502.85h0M393.19 1502.18h0M373.42 1497.25h0M391.17 1513.68h0M349.75 1510.32h0M406.53 1494.09h0M397.71 1508.45h0M373.03 1526.18h0M365.27 1511.73h0M361.43 1526.07h0M389.16 1517.43h0M366.15 1504.72h0M340.71 1522.05h0M341.75 1526.47h0M356.8 1500.08h0M357.65 1509.65h0M347.32 1509.05h0M355.37 1531.78h0M353.94 1531.95h0M358.9 1505.12h0M371.48 1511.56h0M350.63 1511.64h0M342.16 1507.01h0M358.5 1499.66h0M379.93 1512.72h0M392.5 1518.38h0M365 1503.78h0M390.49 1517.74h0M338.65 1526.21h0M345.93 1512.48h0M373.75 1526.19h0M379.82 1528.74h0M387.35 1519.95h0M345.46 1505.3h0M343.31 1526.23h0M377.87 1517.06h0M383.03 1519.39h0M373.64 1512.99h0M385.55 1492.32h0M391.45 1500.52h0M390.89 1498.45h0M372.95 1506.26h0M371.81 1519.53h0M393.75 1516.59h0M384.29 1492.82h0M346.55 1500.6h0M391.94 1502.82h0M386.52 1519.9h0M386.8 1502.22h0M374.67 1509.88h0M370.85 1494.63h0M403.41 1498.19h0M336.65 1509.63h0M369.56 1501.24h0M351.31 1531.06h0M351.37 1515.02h0M346.12 1512.5h0M407.91 1495.25h0M397.81 1511.82h0M352.95 1528.96h0M369.66 1502.71h0M346.04 1504.56h0M359.4 1526.42h0M399.25 1494.7h0M404.01 1502.18h0M363.68 1506.72h0M362.8 1508.27h0M343.07 1526.18h0M357.08 1530.62h0M354.31 1501.11h0M374.25 1497.77h0M363.76 1531.53h0M390.14 1491.59h0M391.12 1509.27h0M392.66 1517.8h0M405.93 1495.02h0M371.29 1504.55h0M358.01 1521.97h0M385.3 1502.66h0M377.78 1506.78h0M351.16 1529.32h0M373.19 1499.1h0M369.6 1495.56h0M353.54 1500.79h0M378.72 1528.49h0M392.44 1507.59h0M366.85 1512.5h0M364.03 1504.31h0M409.05 1494.95h0M373.67 1517.15h0M401.06 1498.92h0M355.97 1500.35h0M365.78 1509.05h0M337.77 1520.66h0M365.15 1530.24h0M375.12 1519.46h0M384.64 1523.1h0M370.16 1513.7h0M338.33 1523.87h0M353.04 1529.93h0M384.5 1502.79h0M345.07 1500.5h0M383.8 1520.18h0M375.28 1515.09h0M364.89 1499.26h0M381.11 1489.87h0M358.29 1509.7h0M353.21 1500.29h0M373.28 1519.12h0M367.32 1500.74h0M361.07 1507.94h0M708.9 1288.48h0M622.3 1332.81h0M632.93 1348.84h0M621.07 1350.69h0M725.05 1296.72h0M617.1 1347.49h0M686.39 1300.85h0M728.51 1279.52h0M729.78 1286.52h0M641.86 1337.93h0M709.19 1305.36h0M644.18 1346.12h0M649.7 1337.11h0M723.38 1290.67h0M628.19 1329.14h0M652.46 1310.47h0M724.54 1284.47h0M678.12 1296.6h0M618.8 1332.18h0M692.95 1306.57h0M680.01 1325.58h0M711.92 1293.75h0M672.28 1300.38h0M697.05 1285.83h0M612.44 1343.17h0M673.93 1296.48h0M658.95 1337.72h0M724.84 1300.32h0M715.58 1306.75h0M627.87 1334.26h0M727.09 1278.02h0M676.51 1321.05h0M627.14 1319.33h0M705.33 1315.03h0M647.45 1315.21h0M613.94 1327.37h0M634.76 1348.94h0M635.45 1316.58h0M695.6 1286.21h0M651.57 1337.83h0M649.03 1343.05h0M643.91 1311.39h0M724.26 1301.63h0M703.96 1287.75h0M648.78 1340h0M665.19 1301.27h0M677 1315.2h0M680.98 1294.79h0M651.04 1317.93h0M651.86 1324.31h0M654.9 1305.85h0M663.17 1300.79h0M727.84 1280.56h0M722.8 1282.98h0M719.98 1292.18h0M613.58 1347.54h0M614.67 1334.85h0M682.33 1299.28h0M605.39 1352.27h0M681.38 1302.16h0M705.67 1291.32h0M642.38 1333.16h0M708.88 1290.39h0M675.03 1324.71h0M679.39 1305.34h0M680.53 1308.91h0M609.75 1347.55h0M671.62 1298.48h0M683.67 1306.3h0M626.21 1344.78h0M726.4 1281.07h0M663.61 1322.86h0M597.27 1343.6h0M698.08 1308.1h0M697.58 1307.03h0M638.8 1331.91h0M693.23 1291.43h0M670.38 1305.66h0M704.34 1312.96h0M628.64 1322.9h0M729.9 1287.32h0M698.22 1296.52h0M717.61 1296.66h0M624.86 1345.12h0M658.19 1339.44h0M653.52 1329.81h0M672.78 1294.92h0M620.93 1321.27h0M601.51 1345.39h0M605.69 1346.91h0M690.47 1322.22h0M642.84 1337.59h0M599.8 1341.79h0M681.63 1293.21h0M699.84 1286.32h0M631.14 1329.07h0M653.41 1333.86h0M640.43 1328.14h0M640.49 1338.79h0M627.96 1348.16h0M691.46 1310.87h0M681.11 1298.93h0M645.14 1343.15h0M612.73 1339.73h0M702.17 1317.64h0M718.33 1289.08h0M604.99 1349.71h0M696.36 1305.56h0M647.99 1335.37h0M690.59 1311.05h0M681.76 1307.94h0M648.81 1331.18h0M721.64 1305.16h0M683.08 1307.15h0M635.55 1321.75h0M681.36 1290.09h0M651.54 1307.26h0M680.19 1303.42h0M702.85 1301.7h0M613.53 1334.6h0M668.54 1329.2h0M664.37 1322.67h0M710.2 1312.83h0M620.65 1326.44h0M647.05 1333h0M607.96 1351.56h0M651.11 1327.6h0M622.73 1331.22h0M621.93 1336.25h0M608.96 1334.16h0M658.14 1316.21h0M622.95 1349.84h0M641.35 1322.63h0M710.89 1298.85h0M713.34 1291.55h0M652.25 1322.5h0M685.65 1299.5h0M610.57 1338.74h0M591.92 1348.82h0M685.17 1290.09h0M624.06 1334.14h0M614.55 1343.75h0M618.81 1327.15h0M653.72 1343.04h0M661.35 1310.86h0M657.97 1316.25h0M729.25 1275.47h0M682.43 1322.4h0M664.14 1309.73h0M694.17 1321.5h0M639.25 1341.28h0M643.24 1308.88h0M651.37 1315.53h0M709.88 1293.68h0M710.02 1302.95h0M633.55 1318.25h0M679.49 1321.63h0M691.02 1319.07h0M688.79 1286.95h0M686.77 1307.49h0M685.13 1300.04h0M707.5 1317.32h0M607.86 1350.04h0M603.01 1341.94h0M694.34 1289.44h0M696.4 1284.85h0M627.01 1349.87h0M635.26 1330.22h0M614.27 1341.22h0M643.44 1317.29h0M653.74 1325.82h0M611.22 1335.9h0M642.82 1323.14h0M681.37 1304.15h0M646.07 1334.97h0M672.27 1293.64h0M599.03 1350.68h0M638.3 1319.87h0M677.24 1294.99h0M652.26 1343.5h0M644.76 1326.48h0M707.09 1292.88h0M651.39 1318.26h0M619.26 1331.95h0M725.07 1288.75h0M678.07 1325.88h0M627.11 1332.03h0M704.8 1307.64h0M602.94 1336.67h0M701.98 1288.65h0M659.21 1318.49h0M616.4 1327.84h0M642.75 1316.4h0M648.49 1312.45h0M676.67 1298.03h0M715.57 1309.87h0M703 1304.81h0M676.79 1302.42h0M607.61 1349.45h0M627.47 1316.41h0M687.16 1302.07h0M688.2 1294.17h0M694.03 1285.49h0M595.47 1346.81h0M622.17 1347.33h0M604.29 1346.9h0M709.35 1309.13h0M693.53 1315.48h0M611.19 1342.04h0M711.73 1297.16h0M636.28 1344.76h0M606.77 1351.07h0M598.48 1344.08h0M695.37 1293.73h0M707.03 1297.7h0M710.67 1313.24h0M722.21 1287.43h0M616.32 1333.65h0M693.22 1285.63h0M678.31 1310.63h0M707.68 1317.95h0M696.27 1303.32h0M707.55 1297.22h0M716.43 1291.45h0M617.18 1338.77h0M643.96 1318.95h0M654.75 1312.32h0M636.7 1328.69h0M645.44 1332.05h0M599.11 1342.21h0M664.53 1313.57h0M730.23 1287.89h0M626.49 1337.56h0M673.67 1312.93h0M661.67 1311.07h0M711.76 1313.16h0M702.67 1297.5h0M681.8 1299.66h0M652.91 1311.41h0M683.09 1291.41h0M688.42 1292.05h0M665.54 1305.46h0M727.84 1293.23h0M634.45 1323.36h0M672.76 1323.6h0M619.37 1328.62h0M656.94 1315.03h0M678.92 1308.41h0M645.7 1318.18h0M714.96 1289.13h0M670.8 1310.29h0M633.01 1333.79h0M716.32 1305.99h0M653.9 1330.72h0M641.25 1325.69h0M709.08 1312.5h0M700.18 1308.94h0M722.61 1279.82h0M701.04 1318.2h0M673.01 1304.14h0M678.13 1300.93h0M655.7 1307.49h0M694.88 1293.68h0M646.78 1315.64h0M662.54 1306.33h0M723.4 1296.27h0M728.98 1286.26h0M651.96 1345.38h0M672 1310.79h0M665.13 1312.46h0M689.4 1301.76h0M642.01 1318.94h0M688.14 1313.12h0M648.26 1316.15h0M653.94 1321.44h0M718.76 1304.39h0M664.28 1311.42h0M681.43 1319.64h0M649.78 1335.09h0M634.64 1326.97h0M662.29 1315.47h0M628.75 1323.3h0M673.38 1303.57h0M701.75 1296.18h0M693.78 1298.78h0M604.65 1344.81h0M674.5 1298.36h0M598.17 1343.7h0M653.87 1321.07h0M635.8 1344.4h0M708.31 1294.58h0M694.21 1287.69h0M634.99 1342.42h0M660.34 1335.51h0M667.48 1301.44h0M608.09 1338.28h0M686.37 1297.74h0M612.81 1328.24h0M654.4 1339.16h0M641.32 1329.63h0M620.36 1348.75h0M692.48 1290.99h0M664.49 1314.58h0M629.38 1333.76h0M645.94 1324.2h0M672.39 1295.18h0M615.87 1340.39h0M636.71 1324.63h0M642.56 1311.04h0M686.27 1298.58h0M649.95 1324.32h0M691.43 1289.96h0M712.77 1298.63h0M606.93 1345.55h0M711.72 1316.88h0M693.95 1290.48h0M653.19 1326.44h0M606.34 1335.4h0M620.66 1345.7h0M690.77 1302.11h0M681.14 1307.06h0M652.23 1312.01h0M724.55 1279.85h0M664.83 1306.41h0M725.66 1298.58h0M633.57 1343.21h0M638.52 1337.41h0M676.88 1307.76h0M618.78 1327.89h0M684.68 1290.21h0M711.74 1293.96h0M614.63 1334.83h0M709.67 1295.96h0M643.58 1315.29h0M643.69 1338.75h0M672.28 1321.74h0M661.79 1310.97h0M704.12 1304.77h0M631.24 1324.54h0M664.72 1304.42h0M721.06 1282.93h0M671.77 1298.3h0M688.13 1320.15h0M633.23 1316.96h0M683.92 1294.21h0M639.94 1343.24h0M688.46 1306.6h0M644.08 1317.77h0M650.5 1313.52h0M671.98 1302.34h0M606.5 1341.32h0M661.05 1315.53h0M653.85 1341.43h0M669.92 1328.97h0M605.03 1338.65h0M692.61 1304.82h0M614.56 1331.55h0M639.65 1333.08h0M606.6 1346.61h0M687.95 1290.47h0M606.23 1336.18h0M632.22 1326.68h0M616.63 1337.65h0M688.58 1302.02h0M712.54 1302.09h0M621.55 1343.99h0M657.94 1317.46h0M687.34 1291.98h0M628.17 1316.78h0M733.82 1272.02h0M681.86 1322.28h0M634.24 1333.05h0M697.26 1311.76h0M682.17 1298.49h0M669.94 1303.14h0M659.92 1299.9h0M655.82 1306.45h0M672.55 1294.47h0M695.4 1315.3h0M725.89 1297.66h0M641.91 1333.98h0M652.22 1341.84h0M720.35 1292.25h0M692.18 1287.44h0M723.79 1286.93h0M637.53 1331.88h0M684.15 1303.09h0M688.5 1297.43h0M733.14 1273.85h0M708.04 1304.59h0M668.2 1318.42h0M670.56 1324.18h0M677.3 1296.85h0M697.48 1290.74h0M702.54 1295.05h0M659.09 1324.01h0M702.27 1299.5h0M702.84 1289.47h0M682.3 1297.97h0M706.09 1307.67h0M637.11 1344.78h0M648.4 1341.48h0M316.35 1530.32h0M321.07 1527.01h0M313.1 1538.01h0M317.1 1531.46h0M323.89 1537.87h0M307.94 1543.77h0M318.03 1538.04h0M320.71 1543.17h0M333.81 1547.69h0M346.11 1546.7h0M362.16 1549.28h0M340.35 1555.28h0M293.89 1537.64h0M299.68 1543.35h0M302.84 1546.23h0M309.01 1545.67h0M316.55 1543.78h0M321.97 1542.65h0M330.71 1548.26h0M332.12 1549.64h0M337.85 1554.64h0M343.09 1553.4h0M349.3 1549.67h0M355.27 1550.69h0M360.29 1553.74h0M364 1551.58h0M361.79 1545.91h0M355.49 1545.87h0M351.8 1545.54h0M342.66 1543.87h0M337.24 1543.79h0M331.29 1539.93h0M328.28 1532.38h0M327.42 1527.57h0M325.23 1523.55h0M321.04 1523.1h0M314.5 1528.49h0M311.07 1531.36h0M303.49 1532.68h0M299.44 1534.41h0M762.01 1257.02h0M749.77 1282.76h0M765.61 1234.92h0M761.17 1250.94h0M743.7 1248.96h0M734.1 1265.96h0M763.32 1244.13h0M769.87 1230.6h0M734.15 1255.09h0M747.75 1250.96h0M763 1245.65h0M745.79 1271.69h0M768.55 1249.86h0M744.52 1266.56h0M774.99 1238h0M743.78 1272.98h0M765.46 1251.86h0M752.45 1260.51h0M748.88 1257.97h0M770.17 1254.48h0M747.6 1260.11h0M761.15 1264.73h0M727.11 1284.18h0M765.3 1265.51h0M725.86 1274.11h0M762.91 1259.49h0M725.85 1274.85h0M746.36 1266.95h0M772 1234.6h0M741.64 1262.1h0M771.26 1264.87h0M751.61 1254.87h0M771.14 1242.83h0M753.08 1251.45h0M748.97 1259.94h0M755.73 1250.85h0M768.02 1238.64h0M752.86 1254.04h0M754.66 1247.74h0M738.2 1282.6h0M739.22 1276.29h0M768.08 1267.55h0M771.48 1229.17h0M767.98 1260.63h0M760.81 1273.67h0M770.1 1234.62h0M774.59 1239.13h0M746.18 1272.48h0M737.3 1290.7h0M725.95 1275.2h0M725.11 1285.56h0M755.63 1247.38h0M799.81 1215.82h0M797.38 1224.56h0M795.27 1222.86h0M113.04 1658.73h0M147.23 1646.73h0M148.22 1621.09h0M157.71 1675.64h0M164.62 1669.27h0M184.39 1664.36h0M212.06 1645.09h0M188.93 1580.55h0M212.25 1612.36h0M217.39 1606h0M295.06 1611.82h0M230.43 1591.27h0M231.23 1586.91h0M235.57 1571.45h0M240.71 1576.36h0M245.06 1580.91h0M247.04 1585.82h0M246.05 1592.36h0M260.08 1596.36h0M264.23 1591.82h0M254.94 1544.91h0M253.36 1570h0M258.5 1574.55h0M261.86 1578.55h0M271.74 1580.36h0M287.55 1581.27h0M302.37 1574.91h0M268.77 1568.73h0M269.76 1558.18h0M273.12 1554.18h0M280.24 1566.36h0M278.26 1544.55h0M281.62 1550.91h0M288.93 1552.73h0M277.08 1531.82h0M283.6 1518.55h0M294.86 1532.36h0M290.51 1537.82h0M299.41 1540h0M302.37 1545.82h0M307.31 1544h0M296.44 1566.36h0M302.37 1563.64h0M306.72 1560h0M320.55 1565.09h0M336.36 1569.45h0M359.29 1565.45h0M330.04 1556.36h0M335.97 1554.55h0M342.29 1558.18h0M346.25 1553.09h0M356.13 1549.09h0M364.03 1558.18h0M368.58 1550.36h0M359.68 1559.09h0M300.4 1505.09h0M306.72 1505.45h0M314.23 1514.55h0M317.19 1501.82h0M318.58 1494.91h0M324.11 1520h0M320.16 1524.55h0M337.94 1494.55h0M310.28 1531.82h0M316.21 1536.36h0M322.13 1541.82h0M328.06 1545.45h0M314.23 1541.82h0M308.3 1538.18h0M324.11 1532.73h0M333.99 1543.64h0M341.9 1545.45h0M349.8 1543.64h0M357.71 1541.82h0M363.64 1540h0M407.11 1517.82h0M393.28 1532.36h0M378.46 1536h0M332.02 1505.45h0M906.93 1124.93h0M909.82 1132.91h0M889.81 1155.61h0M865.36 1179.13h0M872.03 1191.82h0M868.03 1216.97h0M769.31 1197.95h0M811.33 1200.41h0M826.45 1199.59h0M823.12 1207.16h0M798.66 1209.61h0M790.88 1214.32h0M804.22 1215.95h0M766.42 1213.29h0M786.43 1224.13h0M807.55 1226.59h0M800.88 1229.66h0M807.55 1235.18h0M770.87 1223.52h0M775.32 1229.66h0M763.09 1234.77h0M778.65 1235.79h0M747.97 1227.82h0M734.19 1240.91h0M747.53 1243.97h0M750.86 1248.07h0M743.08 1253.18h0M693.06 1251.75h0M704.17 1255.22h0M723.07 1257.68h0M814.67 1255.63h0M830.23 1256.04h0M808.67 1271.18h0M769.31 1296.54h0M743.08 1308h0M778.65 1253.18h0M756.42 1259.31h0M771.98 1263.41h0M767.09 1273.22h0M774.2 1246.02h0M765.31 1249.09h0M704.17 1265.45h0M693.06 1267.5h0M713.06 1269.95h0M739.74 1265.45h0M729.74 1269.54h0M747.53 1277.31h0M743.08 1283.86h0M746.41 1288.36h0M734.19 1295.11h0M669.27 1276.09h0M680.83 1280.79h0M689.72 1275.68h0M705.28 1279.77h0M642.59 1291.63h0M663.04 1289.59h0M619.24 1300.22h0M604.57 1314.13h0M597.9 1327.84h0M609.68 1320.68h0M627.47 1313.52h0M636.36 1308.4h0M729.74 1312.5h0M724.18 1316.59h0M718.62 1322.72h0M711.95 1323.75h0M703.5 1336.02h0M701.95 1344.81h0M686.39 1343.79h0M675.27 1344.81h0M678.6 1338.06h0M618.58 1364.65h0M585.23 1358.52h0M581.89 1354.43h0M600.79 1357.49h0M625.25 1355.45h0M659.71 1350.34h0M647.48 1353.4h0M638.59 1352.38h0M591.9 1337.04h0M586.34 1345.22h0" stroke="#060807" stroke-width="12" stroke-linecap="round" fill="none"/>
<path transform="scale(0.92 1)" d="M459.42 1511.22h0M521.53 1509.48h0M516.71 1493.61h0M478.72 1505.36h0M523.7 1512.83h0M497.7 1531.32h0M533 1499.28h0M514.52 1490.37h0M482.86 1510.47h0M474.47 1525.2h0M467.76 1527.48h0M479.45 1491.34h0M504.99 1492.66h0M504.24 1527.5h0M508.55 1511.06h0M484.79 1506.7h0M515.16 1496.1h0M464.84 1492.58h0M498.82 1514.82h0M461.76 1511.39h0M499.86 1506.31h0M469.61 1508.16h0M470.17 1494.25h0M499.37 1532.66h0M498.06 1527.65h0M506.09 1522.51h0M472.7 1525.59h0M465.3 1501.14h0M500.97 1502.54h0M506.88 1499.62h0M508.52 1527.3h0M519.83 1490.98h0M474.31 1518h0M529.59 1511.08h0M542.29 1508.58h0M490.1 1492.28h0M474.22 1524.77h0M516.7 1495.46h0M483.96 1494.91h0M469.66 1498.9h0M497.21 1512.87h0M523.81 1519.87h0M484.44 1496.01h0M523.23 1494.64h0M508.04 1509.75h0M472.97 1497.81h0M495.07 1499.76h0M498.47 1533.54h0M517.33 1523.59h0M488.63 1527.29h0M490.02 1492.23h0M483.49 1517.78h0M509.45 1510.87h0M483.09 1498.6h0M510.87 1502.55h0M518.89 1510.09h0M468.28 1501.51h0M472.2 1532.62h0M488.85 1512.99h0M547.01 1497.38h0M494.75 1528.57h0M474.81 1505.58h0M534.65 1513.7h0M487.13 1534.57h0M493.72 1536.04h0M485.67 1521.12h0M512.11 1506.76h0M501.37 1521.89h0M539.05 1512.91h0M494.08 1525.64h0M523.65 1489.62h0M482.09 1494.74h0M488.65 1525.45h0M513.04 1501.98h0M524.88 1502.5h0M503.53 1509.02h0M519.72 1522.61h0M477.42 1496h0M527.94 1505.32h0M522.52 1496.44h0M480.79 1490.54h0M479.39 1507.12h0M468.57 1503.42h0M481.67 1509.9h0M488.82 1507.25h0M470.22 1533.57h0M494.32 1529.97h0M481.06 1495.5h0M524.36 1511.51h0M504.95 1521.59h0M523.92 1501.71h0M502.07 1502.36h0M511.94 1500.92h0M525.76 1489.93h0M531.17 1516.35h0M476.24 1500.1h0M457.09 1515.45h0M524.03 1521.97h0M490.65 1528.49h0M526.07 1507.7h0M483.71 1507.6h0M468.44 1531.7h0M502.31 1514.07h0M463.33 1504.89h0M499.4 1530.71h0M489.77 1516.72h0M524.07 1513.04h0M522.98 1529.16h0M477.18 1491.24h0M476.98 1498.57h0M472.17 1492.57h0M518.72 1491.48h0M463.84 1501.69h0M504.57 1528.47h0M511.87 1504.96h0M482.66 1516.45h0M471.58 1527.77h0M470.71 1530.08h0M529.41 1514.87h0M491.75 1491.02h0M511.92 1524.3h0M507.51 1507.98h0M500.38 1517.47h0M472.4 1531.5h0M497.03 1494.58h0M494.69 1522.2h0M519.59 1510.73h0M483.7 1497.41h0M489.69 1502.07h0M469.26 1524.88h0M500.78 1509.92h0M469.51 1501.21h0M505.09 1523.13h0M520.98 1524.05h0M520.92 1519.56h0M476.08 1505.73h0M547.3 1503.23h0M529 1510.75h0M496.87 1529.2h0M505.4 1513.41h0M470.74 1500.53h0M519.77 1535.41h0M521.94 1507.18h0M537.27 1514.73h0M497.68 1520.02h0M470.39 1500.1h0M494.93 1517.31h0M493.29 1491.25h0M521.17 1490.56h0M496.32 1507.99h0M516.12 1523.76h0M473.73 1520.53h0M472.64 1507.59h0M512.3 1525.16h0M471.75 1521.65h0M524.36 1493.07h0M468.55 1528.46h0M460.61 1527.44h0M504.67 1529.17h0M499.44 1519.04h0M503.65 1502.49h0M523.17 1489.06h0M495.08 1494h0M513.88 1498.27h0M492.25 1493.41h0M484.76 1492.58h0M521.72 1530.6h0M486.23 1503.08h0M524.88 1495.29h0M501.16 1510.77h0M490.13 1518.59h0M521.97 1527.93h0M520.4 1489.39h0M492.42 1532.03h0M493.49 1523.4h0M492.6 1327.69h0M533.33 1349.92h0M520.8 1325.14h0M485.71 1332.16h0M530.12 1357.97h0M491.22 1350.33h0M522.35 1356.39h0M523.72 1338.23h0M475.6 1353.12h0M490.17 1343.05h0M493.9 1338.49h0M505.33 1344.21h0M505.85 1358.83h0M496.72 1357.61h0M516.41 1360.33h0M488.34 1357.24h0M518.23 1361.46h0M480.59 1333.45h0M516.21 1346.28h0M520.34 1349.45h0M509.53 1344.53h0M510 1346.5h0M476.16 1336.28h0M487.37 1350.28h0M489.44 1331.98h0M516.39 1333.81h0M519.1 1316.04h0M527.94 1351.98h0M515.08 1325.32h0M514.28 1341.02h0M514.42 1320.39h0M513.79 1340.14h0M469.32 1354.5h0M477.36 1360.11h0M493.66 1347.9h0M477.94 1351.22h0M485.84 1329.81h0M504.78 1316.88h0M485.61 1351.63h0M488.19 1330.55h0M521.65 1322.59h0M495.09 1329.77h0M513.04 1335.17h0M514.59 1353.68h0M500.38 1347.34h0M501.74 1320.04h0M484.39 1333.57h0M493.48 1335.04h0M520.21 1339.79h0M519.31 1315h0M499.89 1327.35h0M482.61 1344.87h0M513.84 1337.35h0M519.95 1338.49h0M484.62 1336.55h0M510.49 1344.27h0M478.41 1352.02h0M534.26 1348.8h0M528.1 1329.89h0M484.12 1341.57h0M481.65 1349.24h0M508.98 1358.91h0M496.33 1345.69h0M484.55 1335.44h0M503.98 1359.36h0M511.63 1322.21h0M484.07 1360.01h0M490.74 1331.88h0M492.23 1345.16h0M479.59 1353.25h0M486.28 1334.28h0M507.49 1347.35h0M476.7 1359.97h0M504.72 1340.74h0M509.14 1334.19h0M496.82 1356.32h0M514.45 1354.89h0M471.89 1357.66h0M535.75 1355.41h0M497.6 1338.09h0M527.51 1352.19h0M513.87 1337.25h0M514.2 1340.98h0M524.18 1356.84h0M473.59 1356.78h0M508.08 1320.44h0M516.57 1324.2h0M484.79 1329.81h0M504.84 1345.61h0M473.41 1348.85h0M511.84 1335.16h0M515.18 1351.81h0M515.59 1347.22h0M513.46 1320.37h0M535.16 1351.1h0M484.54 1333.08h0M496.83 1360.03h0M519.59 1329.48h0M514.57 1350.15h0M496.62 1332.58h0M493.1 1346.98h0M515.45 1319.39h0M494.08 1360.08h0M521.78 1353.63h0M513.08 1343.43h0M517.47 1360.27h0M481.98 1350.11h0M525.61 1341.74h0M527.57 1355.64h0M509.37 1321.29h0M518.91 1325.05h0M480.37 1346.55h0M486.78 1347.32h0M476.26 1358.66h0M491.68 1337.74h0M490.62 1332.41h0M501.69 1324.34h0M511.83 1346.58h0M486.63 1351.41h0M519.13 1328.57h0M502.6 1320.78h0M516.61 1330.78h0M518.31 1322.87h0M523.9 1351.93h0M474.86 1340.98h0M481.63 1347.15h0M524.38 1351.39h0M514.58 1339.9h0M508.93 1316.7h0M512.52 1323.45h0M486.32 1332.72h0M505.48 1347.99h0M470.44 1347.99h0M512.92 1346.31h0M511.17 1357h0M514.51 1324.46h0M522.1 1353.2h0M518.26 1359.89h0M523.71 1326.94h0M490.3 1347.83h0M504.13 1318.9h0M533.29 1355.75h0M476.63 1336.95h0M504.66 1329.64h0M518.26 1338.09h0M522.39 1316.61h0M502.02 1324.04h0M514.93 1322.48h0M490.49 1335.43h0M517.99 1350.32h0M494.22 1333.9h0M511.46 1316.55h0M500.08 1343.55h0M477.28 1334.87h0M511.5 1326.45h0M473.07 1349.33h0M522.06 1333.42h0M521.86 1318.08h0M479.73 1338.22h0M480.4 1350.05h0M497.99 1328.38h0M486.4 1348.82h0M530.5 1357.12h0M501.27 1359.77h0M510.43 1325.88h0M500.75 1347.57h0M519.5 1317.8h0M481.8 1359.86h0M475.75 1352.51h0M486.09 1335.04h0M480.34 1349.03h0M497.48 1352.93h0M528.5 1340.4h0M469.01 1349.97h0M510.6 1356.88h0M527.49 1352.79h0M486.84 1329.79h0M494.43 1329.13h0M484.13 1357.39h0M496.93 1343.5h0M530.19 1349.58h0M485.34 1357.9h0M519.08 1349.54h0M525.01 1324.08h0M514.05 1330.55h0M505.9 1328.3h0M525.54 1328.75h0M527.16 1354.26h0M529 1325.69h0M481.78 1334.98h0M519.31 1317.28h0M503.65 1331.26h0M494.26 1312.36h0M496.9 1302.11h0M512.87 1314.98h0M501.44 1324.82h0M545.36 1317.91h0M501.57 1335.14h0M521.22 1302.35h0M522.29 1333.23h0M517.11 1318.49h0M509.44 1335.42h0M505.38 1313.34h0M487.55 1336.87h0M480.8 1323.06h0M510.64 1328.46h0M510.41 1301.77h0M517.5 1332.86h0M537.41 1313.05h0M494.87 1329.63h0M510.72 1314.08h0M531.47 1337.53h0M493.32 1310.71h0M502.88 1329.09h0M492.2 1321.18h0M515.74 1326.37h0M488.93 1338.68h0M505.34 1337.28h0M515.9 1336.2h0M516.53 1337.65h0M520.22 1303.96h0M525.56 1332.13h0M510 1323.54h0M497.64 1309.61h0M509.73 1319.74h0M513.34 1301.77h0M532 1329.78h0M495.98 1308.74h0M516.97 1305.32h0M523.45 1336.43h0M436.61 1586.61h0M434.72 1554.09h0M434.16 1544.37h0M440.83 1546.42h0M458.62 1545.4h0M468.07 1546.42h0M483.08 1541.3h0M490.86 1561.96h0M505.53 1555.32h0M518.87 1548.98h0M533.66 1551.53h0M532.54 1555.11h0M541.99 1558.69h0M523.1 1567.38h0M521.98 1570.96h0M556.44 1528.01h0M590.91 1524.74h0M543.99 1533.43h0M537.55 1538.75h0M529.77 1533.12h0M518.65 1537.73h0M509.76 1539.26h0M498.08 1538.24h0M559.78 1487.41h0M548.66 1505h0M548.11 1497.33h0M545.33 1487.61h0M549.77 1488.64h0M540.88 1513.18h0M533.1 1517.27h0M448.62 1516.45h0M455.84 1505h0M455.29 1521.36h0M459.73 1532.61h0M468.63 1535.68h0M464.18 1539.77h0M524.21 1523.41h0M519.76 1529.54h0M490.86 1533.63h0M484.19 1531.59h0M487.55 1253.09h0M458.5 1262.18h0M422.13 1277.82h0M410.28 1299.09h0M450.59 1284.55h0M448.62 1290.91h0M443.08 1305.09h0M450.99 1328.18h0M442.29 1340.91h0M443.68 1356h0M534.58 1266.36h0M552.37 1269.09h0M559.29 1273.64h0M566.21 1277.27h0M580.04 1285.45h0M561.26 1284.55h0M564.23 1292.73h0M547.04 1284h0M533.99 1283.64h0M529.64 1294.18h0M514.23 1277.82h0M514.23 1283.64h0M499.01 1284.55h0M490.12 1291.82h0M482.21 1297.27h0M476.28 1305.45h0M511.86 1294.55h0M552.37 1298.18h0M543.48 1301.82h0M553.36 1308.18h0M547.43 1314.55h0M541.5 1318.18h0M549.41 1322.73h0M538.54 1328.18h0M525.69 1305.45h0M517.79 1301.82h0M496.05 1302.73h0M490.12 1314.55h0M488.14 1319.09h0M501.98 1316.36h0M476.28 1328.18h0M472.33 1336.36h0M466.4 1348.18h0M533.6 1321.82h0M536.56 1336.36h0M541.5 1350.91h0M507.91 1310.91h0M590.91 1524.91h0M678.85 1524.55h0" stroke="#e41e2d" stroke-width="12" stroke-linecap="round" fill="none"/>
<path transform="scale(0.92 1)" d="M389.97 1393.83h0M395.01 1394.65h0M397.95 1394.56h0M400.49 1394.57h0M406.19 1391.93h0M411.76 1394.33h0M377.73 1397.2h0M380.59 1397.6h0M388 1396.57h0M389.29 1397.59h0M395.24 1397.13h0M400.2 1397.34h0M403.91 1398.17h0M410.4 1398.06h0M413.42 1395.86h0M373.4 1401.79h0M375.72 1400.25h0M381.56 1400.93h0M384.53 1401.31h0M388.67 1401.62h0M393.29 1398.62h0M398.72 1398.72h0M402.8 1398.39h0M408.35 1400.14h0M411.73 1398.67h0M415.68 1399.55h0M340.9 1404.45h0M343.91 1403.6h0M349.14 1403.27h0M350.52 1404.97h0M357.64 1404.13h0M365 1404.64h0M371.3 1405h0M372.51 1404.14h0M378.4 1403.14h0M381.23 1402.17h0M386.76 1403.45h0M390.32 1403h0M395.79 1404.42h0M400.27 1402.26h0M405.78 1403h0M410.42 1405.21h0M411.56 1403.77h0M338.2 1407.57h0M341.95 1408.49h0M347.5 1407.6h0M350.76 1405.16h0M352.51 1406.69h0M360.45 1406.28h0M363.23 1405.19h0M366.98 1408.41h0M372.01 1408.12h0M374.1 1405.89h0M379.1 1408.15h0M383.15 1408.51h0M388.14 1408.33h0M393.46 1406.32h0M399.57 1406.61h0M402.87 1405.4h0M407.74 1408.69h0M409.27 1407.84h0M414.24 1405.69h0M335.71 1409.51h0M340.32 1409.51h0M341.81 1410.36h0M347.31 1409.84h0M353.13 1409.44h0M357.11 1411.64h0M360.61 1410.45h0M366.8 1410.81h0M368.24 1408.89h0M372.2 1409.83h0M376.57 1410.97h0M382.23 1409.75h0M386.93 1412.01h0M390.23 1409.19h0M394.81 1409.8h0M401.53 1411.18h0M403.99 1409.23h0M406.84 1409.08h0M414.33 1410.97h0M415.97 1410.89h0M332.26 1412.68h0M335.2 1414.07h0M343.15 1415.43h0M344.01 1413.92h0M349.88 1412.82h0M354.93 1413.9h0M359.83 1413.17h0M364.66 1415.05h0M367.21 1412.63h0M371.6 1412.57h0M376.74 1414.63h0M380.66 1415.63h0M382.93 1414.69h0M390.23 1412.52h0M392.7 1412.31h0M398.07 1414.72h0M401.5 1414.62h0M405.92 1414.68h0M409.92 1415.64h0M414.9 1412.13h0M417.89 1414.73h0M330.29 1416.81h0M334.21 1417.43h0M339.4 1416.4h0M342.53 1417.41h0M347.76 1417.1h0M352.74 1416.26h0M356.57 1416.59h0M361.85 1418.13h0M366.24 1417.46h0M368.51 1418.93h0M373.88 1416.95h0M377.36 1417.04h0M383.35 1418.54h0M386.81 1418.23h0M390.1 1417.22h0M395.02 1416.7h0M399.37 1418.31h0M405.18 1416.34h0M407.58 1418.42h0M413.57 1418.03h0M417.84 1418.09h0M320.85 1422.2h0M323.6 1420.59h0M327.46 1422.58h0M331.29 1419.64h0M336.02 1422.4h0M342.61 1420.27h0M346.95 1422.28h0M349.64 1419.77h0M355.34 1420.43h0M357.13 1422.33h0M362.73 1420.51h0M367.69 1420h0M369.78 1420.48h0M375.54 1419.12h0M379.86 1421.82h0M384.05 1421.52h0M389.54 1419.75h0M391.52 1421.5h0M398.18 1420.13h0M400.92 1422.16h0M408.05 1419.92h0M411.13 1421.15h0M414.44 1419.21h0M418.8 1421.4h0M316.41 1425.35h0M321.58 1426.11h0M324.27 1423.93h0M329.29 1424.81h0M335.79 1425.59h0M339.24 1423.95h0M344.57 1422.93h0M346.81 1425.27h0M351.86 1426.13h0M354.84 1424.22h0M359.67 1422.56h0M363.55 1422.88h0M368.97 1424.11h0M373.87 1423.6h0M378.97 1424.41h0M384.42 1423.17h0M386.92 1424.33h0M390.73 1425.66h0M394.44 1425.72h0M399.37 1423.76h0M404.72 1424.58h0M407.77 1422.86h0M414.75 1423.89h0M415.8 1424.92h0M421.79 1423.74h0M310.62 1429.03h0M314.65 1428.68h0M317.64 1426.83h0M325.64 1428.49h0M328.87 1427.83h0M332.42 1426.75h0M335.6 1428.36h0M341.99 1426.97h0M346.14 1426.53h0M350.36 1426.65h0M354.31 1427.17h0M358.82 1426.52h0M362.9 1428.26h0M365.88 1427.15h0M372.36 1428h0M376.47 1428.84h0M380.64 1426.84h0M384.48 1429.03h0M389.31 1428.75h0M392.87 1427.65h0M399.59 1429h0M402.69 1426.42h0M406.88 1426.16h0M412.49 1429.54h0M416.03 1427h0M420.84 1426.67h0M313.45 1429.95h0M315.98 1430.57h0M320.8 1432.83h0M327.6 1432.65h0M332.27 1431.1h0M335.86 1430.53h0M340.72 1432.44h0M344.31 1430.34h0M346.15 1432.85h0M352.3 1431.72h0M357.86 1430.03h0M361.57 1431.19h0M366.26 1431.16h0M368.3 1432.96h0M372.98 1432.2h0M379.48 1430.41h0M383.29 1430.94h0M385.8 1430.3h0M393 1430.84h0M395.61 1431.32h0M398.07 1432.23h0M405.23 1432.67h0M408.06 1430.27h0M412.37 1432.15h0M417.93 1430.98h0M421.76 1430.07h0M302.63 1434.73h0M305.96 1435.08h0M309.69 1434.57h0M313.19 1435.87h0M318.52 1435.99h0M324.04 1435.16h0M328.68 1433.45h0M333.62 1434.05h0M338.3 1435.83h0M341.92 1435.93h0M345.33 1435.42h0M351.69 1433.68h0M352.71 1434.48h0M358.66 1433.53h0M361.87 1436.12h0M366.88 1433.53h0M370.42 1435.08h0M374.8 1434.71h0M380.5 1434.58h0M384.72 1436.01h0M387.16 1436.34h0M392.22 1433.13h0M398.8 1435.05h0M402.24 1433.78h0M407.54 1434.1h0M411.68 1433.82h0M415.42 1435.33h0M418.99 1434.72h0M297.02 1436.66h0M298.94 1436.78h0M303.3 1436.79h0M308.58 1437.38h0M312.18 1438.14h0M316.81 1439.32h0M322.53 1436.89h0M324.93 1436.51h0M329.69 1436.87h0M335.48 1439.29h0M340.99 1437.23h0M341.59 1439.2h0M347.4 1439.83h0M351.68 1437.6h0M354.77 1439.89h0M360.84 1438.06h0M364.89 1439.24h0M370.78 1438.19h0M372.58 1437.94h0M379.71 1437.94h0M383.16 1438.49h0M386.73 1438.55h0M390.23 1438.48h0M397 1436.76h0M399.41 1439.65h0M406.14 1436.52h0M409.12 1438.75h0M414.31 1438.17h0M415.87 1437.56h0M292.72 1442.11h0M297.11 1440.42h0M302.76 1440.99h0M307.58 1441.06h0M310.97 1442.87h0M313.64 1442.59h0M317.8 1443.33h0M321.98 1442.56h0M327.67 1440.6h0M332.12 1441.76h0M336.55 1440.4h0M341.32 1441.04h0M347.4 1441.34h0M349.67 1440.78h0M356.1 1441.12h0M359.19 1442.95h0M362.55 1442.68h0M366.45 1440.35h0M369.87 1441.57h0M377.47 1440.69h0M380.12 1442.7h0M383.83 1440.51h0M389.13 1441.49h0M395.12 1443.19h0M396.72 1441.98h0M401.77 1440.08h0M406.23 1443.25h0M410.02 1442.07h0M415.96 1440.18h0M289.33 1443.98h0M294.49 1443.73h0M298.32 1444.14h0M304.34 1443.93h0M309.87 1444.94h0M311.99 1444.3h0M318.64 1443.61h0M322.61 1443.79h0M327.75 1444.91h0M330.74 1446.54h0M333.14 1443.67h0M339.81 1445.55h0M344.27 1444.44h0M347.74 1444.11h0M351.85 1444.45h0M356.78 1444.51h0M359.91 1445.75h0M363.52 1446.32h0M369.47 1444.26h0M372.33 1445.27h0M378.2 1446.03h0M382.04 1444.92h0M388.42 1444.42h0M393.11 1446.65h0M397.49 1446.83h0M398.97 1446.37h0M404.71 1444.17h0M410.56 1445.77h0M414.18 1445.45h0M415.67 1446.54h0M284.56 1449.49h0M287.47 1449.3h0M291.85 1448.63h0M298.33 1449.39h0M300.31 1447.6h0M308.24 1448.32h0M310.5 1448.27h0M315.91 1449.58h0M320.08 1448.37h0M324.11 1448.77h0M326.96 1450.33h0M334.35 1449.72h0M338.81 1448.59h0M342.55 1447.78h0M346.52 1449.49h0M351.64 1449.92h0M355.75 1447.88h0M359.74 1448.63h0M362.23 1448.24h0M368.48 1449.95h0M373.01 1449.33h0M374.72 1447.48h0M380.62 1447.68h0M384.07 1447.29h0M387.7 1449.5h0M392.32 1449.97h0M397.08 1449.97h0M401.32 1447.88h0M406.03 1446.96h0M410.54 1448.28h0M413.23 1450.02h0M419 1446.92h0M285.31 1452.95h0M291.55 1452.21h0M294.58 1451.43h0M301.76 1451.74h0M306.19 1453.59h0M307.15 1453.45h0M311.09 1452.96h0M318.53 1452.9h0M321.86 1453.32h0M324.66 1452.34h0M329.44 1451.83h0M333.5 1452.95h0M339.34 1453.2h0M343.9 1452.55h0M349.4 1453.32h0M352.36 1451.57h0M358.12 1451.73h0M359.24 1451.6h0M365.95 1453.75h0M370.06 1452.78h0M375.55 1453.2h0M377.97 1452.06h0M383.55 1451.54h0M385.35 1452.63h0M392.44 1451.29h0M398.47 1450.89h0M293.06 1456.94h0M298.84 1455.99h0M301.07 1454.97h0M306.41 1455.3h0M311.36 1455.7h0M314.45 1456.06h0M321.43 1454.61h0M323.19 1453.92h0M326.59 1454.08h0M332.23 1456.89h0M337.65 1457.35h0M342.55 1455.99h0M345.89 1453.92h0M349.47 1454.82h0M354.74 1454.11h0M358.78 1455.23h0M362.93 1455.33h0M365.76 1456.51h0M372.84 1456.03h0M374.51 1456.03h0M381.81 1457.43h0M385.72 1454.04h0M306.72 1458.51h0M314.44 1457.57h0M318.45 1457.47h0M322.24 1460.24h0M324.98 1458.73h0M329.29 1459.89h0M334.82 1459.54h0M338.37 1459.47h0M345.18 1460.16h0M349.52 1458.25h0M352.16 1458.75h0M355.84 1460.25h0M359.52 1459.37h0M366.21 1460.72h0M367.6 1458.33h0M329.71 1461.71h0M342.27 1461.94h0M344 1461.85h0M350.99 1462.52h0M355.5 1461.41h0M357.08 1462.09h0M364.45 1461.42h0M365.64 1463.55h0M370.06 1463.24h0M353.76 1466.04h0M358.26 1464.82h0M362.44 1466.62h0M366.6 1465.8h0M288.06 1442.49h0M285.18 1445.96h0M283.86 1450.75h0M279.78 1453.79h0M285.55 1454.99h0M294.5 1456.69h0M296.2 1457.87h0M307.26 1459.44h0M312.54 1461.15h0M316.99 1460.86h0M325.67 1462.29h0M333.54 1462.11h0M336.01 1463.22h0M341.55 1464.64h0M348.93 1466.44h0M355.54 1466.57h0M361 1468.47h0M368.77 1464.29h0M374.73 1460.59h0M379.27 1457.97h0M387.94 1456.28h0M391.33 1454.12h0M397.68 1451.32h0M404.82 1451.66h0M410.94 1449.94h0M416.81 1448.92h0M420.14 1444.82h0M422.28 1436.82h0M421.7 1431.64h0M423.1 1427.93h0M421.95 1418.83h0M419.81 1414.63h0M416.61 1410.05h0M417.07 1403.21h0M416.74 1398.93h0M414.28 1391.71h0M408.45 1390.82h0M403.64 1390.92h0M397.28 1391.38h0M391.65 1393.17h0M385.81 1392.33h0M375.5 1392.69h0M373.4 1396.22h0M367.69 1401.4h0M361.23 1403.41h0M357.37 1404.7h0M350.45 1401.57h0M343.8 1401.82h0M339.23 1401.88h0M336.5 1406.56h0M330.66 1412.34h0M326.26 1415.88h0M320.69 1421.07h0M316.48 1425.57h0M312.2 1428.94h0M304.62 1431.15h0M301.34 1433.82h0M296.12 1437.74h0M655.73 1386.67h0M658.4 1386.34h0M653.04 1390.17h0M655.78 1388.28h0M660.34 1390.36h0M664.87 1390.2h0M672.1 1389.4h0M673.32 1389.27h0M609.21 1392.76h0M612.97 1392.98h0M615.64 1392.87h0M619.62 1392.24h0M625.49 1393.04h0M647.73 1392.93h0M651.78 1393.05h0M655.61 1392.27h0M661.55 1392.58h0M664.86 1392.37h0M668.57 1392.97h0M673.23 1390.71h0M677 1391.76h0M681.37 1392.27h0M685.44 1391.65h0M690.05 1391.58h0M697.14 1392.84h0M607.09 1396.74h0M608.89 1394.64h0M615.02 1396.59h0M618.48 1395.12h0M621.9 1396.6h0M628.71 1396.81h0M630.13 1395.86h0M637.88 1396.3h0M642.96 1396.36h0M647.34 1396.64h0M654.02 1395.43h0M659.26 1397.08h0M662.53 1394.09h0M666.77 1395.24h0M669.79 1397.07h0M676.02 1394.16h0M678.4 1394.96h0M684.1 1394.9h0M687.92 1396.65h0M691.26 1396.32h0M696.19 1397.13h0M594.92 1397.82h0M598.27 1399.43h0M604.94 1399.06h0M606.76 1399.32h0M611.19 1400.02h0M615.07 1398.15h0M620.53 1400.48h0M623.81 1397.9h0M628.02 1397.98h0M633.15 1398.63h0M639.18 1398.66h0M642.41 1398.63h0M647.93 1400.46h0M650.91 1400.52h0M654.57 1400.73h0M660 1399.66h0M663.78 1398.18h0M667.17 1400.39h0M672.39 1399.72h0M677.14 1399.1h0M680.49 1397.84h0M685.34 1399.66h0M690.5 1397.21h0M695.51 1398.77h0M697.34 1398.14h0M587.18 1401.73h0M591.65 1401.93h0M597.99 1403.52h0M601.98 1403.87h0M606.15 1401.09h0M608.12 1401.28h0M613.3 1402.59h0M619.85 1402.79h0M622.67 1401.56h0M629.17 1403.4h0M631.02 1400.85h0M637.87 1401.61h0M641.69 1401.11h0M645.28 1401.97h0M650.55 1401.76h0M651.81 1401.4h0M658.92 1404.21h0M662.63 1403.14h0M665.57 1401.67h0M669.15 1404.23h0M673.33 1402.89h0M678.88 1401.36h0M683.56 1404.04h0M687.17 1401.28h0M693.01 1403.05h0M696.9 1401.33h0M581.69 1405.88h0M586.2 1406.78h0M591.87 1405.85h0M592.89 1407.16h0M597.14 1405.31h0M601.98 1406.33h0M608.83 1404.63h0M611.27 1407.23h0M617.16 1404.56h0M621.5 1407.02h0M624.76 1404.73h0M630.09 1405.32h0M632.38 1404.76h0M637.78 1404.62h0M642.06 1406.15h0M647.06 1405.62h0M652.38 1404.48h0M654.88 1407.53h0M661.32 1407.48h0M665.28 1406.09h0M669.72 1406.23h0M671.45 1405.09h0M675.71 1407.32h0M680.94 1405.63h0M686.13 1404.53h0M691.14 1407.03h0M580.49 1410.14h0M583.31 1408.88h0M586.8 1410.64h0M592.35 1410.57h0M596.23 1408.8h0M601.25 1410.33h0M607.05 1408.92h0M610.66 1409.1h0M615.66 1410.38h0M618.81 1408.95h0M622.06 1410.83h0M628.47 1408.74h0M630.01 1408.35h0M637.8 1407.79h0M641.55 1409.55h0M644.89 1409.59h0M648.68 1409.65h0M651.77 1410.96h0M656.17 1408.15h0M662.75 1409.95h0M667.62 1410.14h0M672.45 1407.83h0M673.2 1408.5h0M680.55 1408.2h0M683.93 1410.42h0M686.81 1409.55h0M578.4 1413.58h0M580.87 1413.76h0M585.93 1414h0M589.8 1414.3h0M595.4 1412.75h0M599.27 1414.02h0M603.49 1414.58h0M605.8 1414.36h0M612.91 1412.89h0M617.79 1411.66h0M620.13 1413.7h0M626.38 1412.47h0M631.4 1413.46h0M632.03 1411.57h0M636.5 1413.18h0M641.81 1412.07h0M646.65 1411.41h0M652.8 1414.14h0M655.78 1412.73h0M659.15 1413.3h0M663.65 1414.64h0M670.38 1413.74h0M674.22 1411.4h0M675.82 1412.37h0M680.17 1412.65h0M687.89 1414.13h0M692.13 1411.92h0M579.57 1415.69h0M584.49 1416.63h0M588.54 1415.69h0M593.43 1417.09h0M597.69 1416.3h0M601.06 1415.64h0M603.75 1416.28h0M610.35 1415.28h0M615.65 1417.77h0M619.98 1417.54h0M622.9 1415.24h0M626.39 1417.26h0M633.53 1415.01h0M634.05 1415.88h0M639.74 1416.76h0M643.16 1417.64h0M648.4 1417.88h0M652.71 1415.71h0M656.46 1418.08h0M662.42 1417.58h0M664.71 1416.56h0M671.68 1418.15h0M676.82 1414.98h0M678.97 1418.2h0M683.95 1418.05h0M687.19 1414.7h0M579.04 1421.24h0M580.69 1421.04h0M584.1 1419.59h0M592.07 1419h0M594.16 1420.18h0M598 1420.64h0M603.97 1418.43h0M609.37 1418.34h0M612.84 1419.34h0M615.03 1418.37h0M622.72 1420.97h0M624.95 1420.95h0M631.3 1421.42h0M633.94 1419.08h0M638.23 1421.62h0M643.41 1420.5h0M648.2 1419.56h0M651.43 1421.14h0M654.37 1421.18h0M658.04 1420.02h0M664.54 1418.61h0M670.25 1419.67h0M671.71 1419.57h0M677.65 1419.63h0M679.69 1418.42h0M686.82 1418.56h0M689.38 1420.99h0M580.46 1423.72h0M583.28 1421.63h0M587.89 1422.42h0M592.85 1425.1h0M595.72 1421.84h0M601.96 1421.95h0M604.47 1423.15h0M611.8 1422.73h0M613.53 1423.28h0M617.27 1423.01h0M623.73 1422.73h0M628.45 1422.23h0M630.08 1423.82h0M635.8 1424.87h0M638.79 1424.25h0M645.35 1422.9h0M647.57 1423.77h0M654.39 1423.27h0M657.62 1424.03h0M662.5 1423.09h0M665.19 1423.24h0M670.96 1424.79h0M677.05 1423.57h0M678.79 1422.37h0M684.32 1424.22h0M687.17 1424.05h0M583.53 1425.28h0M585.23 1426.76h0M591.29 1427.32h0M596.36 1427.46h0M597.08 1425.3h0M601.56 1426.6h0M605.87 1426.94h0M612.59 1425.77h0M617.81 1426.54h0M622.57 1426.33h0M625.59 1427h0M628.54 1427.85h0M631.87 1425.94h0M637.46 1428.22h0M642.51 1425.18h0M646.07 1427.24h0M652.41 1425.44h0M656.64 1426.45h0M659.99 1426.56h0M664.01 1428.61h0M670.23 1428.35h0M673.86 1427.57h0M675.89 1425.17h0M682.93 1427.47h0M686.5 1426.17h0M689.42 1428.36h0M585.39 1431.46h0M586.22 1430.03h0M590.99 1431.14h0M598.07 1431.37h0M602.34 1428.96h0M603.65 1428.86h0M611.24 1431.51h0M614.31 1429.37h0M619.99 1428.96h0M622.26 1428.53h0M629.18 1430.02h0M632.7 1431.41h0M636.3 1432.08h0M641.41 1431.86h0M646.49 1428.82h0M650.01 1429.34h0M652.69 1429.76h0M659.64 1428.74h0M661.82 1428.99h0M668.37 1430.31h0M671.56 1430.4h0M676.16 1429.74h0M679.12 1431.21h0M684.6 1431.72h0M687.41 1431.58h0M579.87 1434.59h0M586.89 1434.22h0M589.18 1434.61h0M595.96 1434.24h0M597.96 1434.04h0M602.96 1432.97h0M606.35 1435.12h0M612.59 1435.36h0M615.14 1432.96h0M620.8 1432.22h0M624.34 1433.95h0M629.39 1435.28h0M634.11 1434.3h0M638.49 1434.83h0M641.98 1432.01h0M648.74 1434.86h0M649.74 1432.41h0M654.46 1434.38h0M658.45 1432.08h0M664.22 1432.03h0M667.65 1433.38h0M671.79 1432.02h0M676.35 1432.88h0M680.95 1433.5h0M685.44 1433.17h0M688.45 1435.02h0M581.03 1437.13h0M582.66 1438.44h0M589.69 1435.93h0M592.51 1437.51h0M595.36 1436.64h0M601.67 1437.91h0M606.05 1437.72h0M609.42 1435.73h0M612.35 1438.5h0M620.02 1438.74h0M621.28 1438.26h0M626.01 1436.73h0M630.46 1438.58h0M637.23 1438.48h0M639.87 1438.86h0M643.74 1437.55h0M649.71 1436.33h0M652.91 1435.85h0M658.89 1436.15h0M660.65 1436.49h0M666.97 1437.78h0M670.86 1438.56h0M676.1 1436.24h0M679.6 1436.1h0M682.8 1436.02h0M686.5 1436.75h0M581.9 1441.13h0M584.34 1441.75h0M589.32 1441.09h0M594.8 1440.19h0M600.78 1440.39h0M603.08 1440.91h0M609.05 1442.52h0M613.13 1440.91h0M617.27 1441.26h0M622.57 1442.46h0M626.13 1439.75h0M629.73 1440.55h0M632.76 1441.78h0M637.07 1441.52h0M642.47 1440.5h0M647.66 1441.58h0M653.12 1442.56h0M656.72 1439.92h0M660.56 1440.75h0M665.97 1440.58h0M668.04 1439.06h0M672.82 1440.88h0M676.54 1439.35h0M681.57 1439.22h0M582.96 1443.71h0M587.45 1445.12h0M592.48 1445.31h0M594.92 1442.92h0M600.05 1443.77h0M605.16 1443.83h0M611.72 1444.03h0M614.54 1445.91h0M619.15 1444.59h0M624.23 1443.65h0M625.47 1445.89h0M631.77 1444.54h0M634.29 1445.13h0M639.84 1444.76h0M643.83 1445.75h0M648.52 1443.44h0M654.92 1443.25h0M656.83 1444.2h0M663.95 1442.86h0M665.29 1445.31h0M669.11 1443.94h0M676.22 1445.01h0M584.62 1447.66h0M590.21 1446.31h0M593.76 1449.24h0M599.9 1447.76h0M603.81 1449.03h0M609.5 1448.07h0M610.31 1449.06h0M615.11 1446.79h0M619.35 1447.77h0M625.44 1447.58h0M629.35 1446.43h0M634.66 1447.86h0M637.41 1448.93h0M644.22 1449.25h0M648.75 1446.17h0M650.77 1447.55h0M654.6 1448.6h0M661.48 1446.43h0M664.27 1449.41h0M670.12 1447.55h0M671.39 1447.57h0M586.5 1450.81h0M594.35 1450.68h0M597.7 1449.53h0M601.26 1451.35h0M603.98 1451.49h0M609.69 1450.59h0M615.54 1451.9h0M617.11 1449.79h0M621.19 1450.35h0M634.52 1452.26h0M641.36 1451.11h0M646.62 1451.56h0M647.54 1450.18h0M651.93 1451.6h0M658.21 1452.49h0M660.16 1449.44h0M668.27 1450.35h0M669.85 1452.53h0M585.43 1456.36h0M590.65 1453.75h0M594.94 1455.97h0M598.51 1454.45h0M603.68 1456.44h0M608.27 1453.54h0M612.39 1454.04h0M616.32 1455.45h0M618.89 1454.71h0M637.2 1454.72h0M642.63 1453.69h0M647.89 1454.68h0M650.64 1453.8h0M656.87 1456.13h0M661.61 1453.78h0M662.57 1455.16h0M666.73 1455.97h0M588.04 1458.23h0M591.65 1458.04h0M598.56 1458.12h0M599.25 1457.64h0M604.37 1458.61h0M609.93 1458.08h0M616.98 1456.48h0M638.55 1456.81h0M646.26 1458.33h0M647.72 1458.91h0M655.04 1459.48h0M658.29 1459.27h0M660.46 1458.03h0M667.63 1457.6h0M599.83 1460.47h0M646.09 1460.16h0M656.64 1460.02h0M660.69 1462.08h0M664.18 1462.24h0M655.22 1464.32h0M657.78 1463.7h0M661.52 1463.59h0M579.75 1405.4h0M579.15 1410.48h0M578.73 1415.03h0M579.01 1422.07h0M577.17 1429.57h0M578.39 1436.42h0M581.25 1443.31h0M582.43 1448.54h0M584.24 1454.16h0M586.29 1457.39h0M592.75 1460.29h0M599.47 1459.53h0M603.39 1459.75h0M613.07 1458.56h0M619.06 1456.57h0M622.37 1454.14h0M627.31 1449.92h0M631.87 1451.54h0M639.11 1456.44h0M644.8 1461.07h0M648.98 1460.35h0M653.93 1466.31h0M660.26 1465.75h0M665.65 1463.88h0M668.37 1459.04h0M673.36 1451.99h0M675.72 1447.54h0M678.31 1441.99h0M684.6 1439.8h0M690.04 1435.78h0M690.7 1430.66h0M690.37 1422.37h0M689.69 1418.52h0M693.09 1412.88h0M695.45 1404.63h0M697.54 1403h0M699.74 1397.16h0M695.8 1391.8h0M689.39 1389.72h0M685.34 1389.69h0M675.51 1389.65h0M668.88 1387.57h0M663.53 1386.02h0M659.75 1385.61h0M651.77 1389.59h0M645.84 1390.65h0M643.31 1394.28h0M634.51 1395.08h0M627.89 1393.29h0M622.3 1391.94h0M616.55 1389.89h0M608.91 1393.05h0M605.29 1394.5h0M597.17 1396.46h0M592.02 1397.64h0M586.23 1401.51h0M282.21 1406.36h0M257.91 1464.91h0M262.85 1454.91h0M331.62 1381.82h0M352.77 1381.45h0M374.51 1379.64h0M379.05 1372.73h0M398.81 1366.36h0M399.21 1376.36h0M311.26 1394.55h0M316.21 1397.27h0M320.16 1404.55h0M293.48 1423.27h0M312.25 1419.09h0M335.97 1389.09h0M338.93 1394.55h0M349.8 1395.45h0M415.02 1383.64h0M280.63 1467.27h0M298.42 1471.82h0M310.67 1475.45h0M326.09 1470h0M337.55 1474.18h0M348.42 1473.64h0M274.7 1450.91h0M274.7 1460h0M287.55 1438.18h0M298.42 1427.27h0M361.66 1399.09h0M365.61 1470h0M377.47 1463.64h0M393.28 1458.18h0M415.02 1454.55h0M422.92 1449.09h0M424.9 1430.91h0M423.91 1418.18h0M419.96 1394.55h0M780.63 1376h0M704.55 1365.45h0M711.46 1371.82h0M723.72 1368.18h0M730.83 1370h0M677.47 1374.91h0M717.39 1381.45h0M728.26 1385.45h0M726.28 1391.27h0M747.04 1389.09h0M737.55 1398.18h0M729.25 1407.64h0M747.63 1408.55h0M709.09 1410h0M716.4 1414.91h0M705.53 1419.09h0M705.14 1424h0M742.09 1421.82h0M753.36 1422.73h0M723.72 1427.27h0M730.24 1436.36h0M709.09 1435.45h0M699.6 1444.55h0M689.72 1448.73h0M705.53 1476.36h0M718.97 1470.55h0M725.3 1469.45h0M684.78 1480.36h0M692.09 1484h0M636.36 1499.45h0M685.38 1522.18h0M720.36 1522.36h0M701.58 1390.91h0M703.56 1397.82h0M699.6 1380h0M693.68 1383.64h0M657.11 1379.09h0M660.08 1475.45h0M653.16 1474.91h0M667 1470h0M664.03 1465.45h0M673.91 1456.36h0M673.91 1450h0M638.34 1460.91h0M632.41 1456.36h0M609.68 1468.18h0M604.74 1465.45h0M591.9 1468.18h0M588.93 1463.64h0M583 1460h0" stroke="#247bba" stroke-width="12" stroke-linecap="round" fill="none"/>
<path d="M67 1097V1704.3M65.5 1702.8H874.4" stroke="#111" stroke-width="3.1" fill="none"/>
<path d="M61.2 1588.6H66M61.2 1425H66M61.2 1261.4H66M61.2 1097.8H66M255.25 1703V1709.9M460 1703V1709.9M664.75 1703V1709.9M869.5 1703V1709.9" stroke="#2a2a2a" stroke-width="3" fill="none"/>
<text transform="translate(56.2 1597) scale(0.9200 1)" font-size="22.8" text-anchor="end" fill="#4d4d4d">−1</text>
<text transform="translate(255.25 1731.6) scale(0.9200 1)" font-size="22.8" text-anchor="middle" fill="#4d4d4d">−1</text>
<text transform="translate(56.2 1433.4) scale(0.9200 1)" font-size="22.8" text-anchor="end" fill="#4d4d4d">0</text>
<text transform="translate(460 1731.6) scale(0.9200 1)" font-size="22.8" text-anchor="middle" fill="#4d4d4d">0</text>
<text transform="translate(56.2 1269.8) scale(0.9200 1)" font-size="22.8" text-anchor="end" fill="#4d4d4d">1</text>
<text transform="translate(664.75 1731.6) scale(0.9200 1)" font-size="22.8" text-anchor="middle" fill="#4d4d4d">1</text>
<text transform="translate(56.2 1106.2) scale(0.9200 1)" font-size="22.8" text-anchor="end" fill="#4d4d4d">2</text>
<text transform="translate(869.5 1731.6) scale(0.9200 1)" font-size="22.8" text-anchor="middle" fill="#4d4d4d">2</text>
<path transform="scale(0.92 1)" d="M107.83 950h0" stroke="#060807" stroke-width="12" stroke-linecap="round" fill="none"/>
<path transform="scale(0.92 1)" d="M107.83 992.7h0" stroke="#e41e2d" stroke-width="12" stroke-linecap="round" fill="none"/>
<path transform="scale(0.92 1)" d="M107.83 1035.7h0" stroke="#247bba" stroke-width="12" stroke-linecap="round" fill="none"/>
</g>
<g id="panel-d">
<path d="M1218 1461.8V1573M1218 1650V1660.3M1556.8 1324V1508M1556.8 1634V1661.8" stroke="#070908" stroke-width="7" fill="none"/>
<rect x="1091.6" y="1574" width="253.4" height="75.1" fill="#247bba" stroke="#070908" stroke-width="7.3" stroke-linejoin="round"/>
<rect x="1429.6" y="1508.6" width="254.6" height="124.5" fill="#e41e2d" stroke="#070908" stroke-width="7.3" stroke-linejoin="round"/>
<path d="M1091.5 1627.3H1345M1429.6 1590.7H1684.2" stroke="#070908" stroke-width="5.3" fill="none"/>
<path d="M1218 1270.6h0M1218 1312.4h0M1218 1334.1h0M1218 1343.2h0M1218 1388.8h0M1218 1411.2h0M1218 1418.8h0M1218 1430.8h0M1556.8 1036.25h0M1556.8 1166.25h0M1556.8 1173h0M1556.8 1197h0M1556.8 1226.5h0M1556.8 1242.5h0M1556.8 1255.75h0M1556.8 1259.5h0M1556.8 1265h0M1556.8 1276.25h0M1556.8 1280h0M1556.8 1283.75h0M1556.8 1293.75h0M1556.8 1310.75h0M1556.8 1320h0" stroke="#000" stroke-width="8.2" stroke-linecap="round" fill="none"/>
<path d="M1014.8 1005V1695.8M1011.8 1692.8H1760" stroke="#0a0a0a" stroke-width="6" fill="none"/>
<path d="M1007.2 1663.4H1012M1007.2 1520.2H1012M1007.2 1377H1012M1007.2 1233.8H1012M1007.2 1090.6H1012M1218 1692.8V1700.7M1556.8 1692.8V1700.7" stroke="#333" stroke-width="6" fill="none"/>
<text transform="translate(1000.6 1672.3) scale(0.9800 1)" font-size="25" text-anchor="end" fill="#4d4d4d">0.0</text>
<text transform="translate(1000.6 1529.1) scale(0.9800 1)" font-size="25" text-anchor="end" fill="#4d4d4d">0.1</text>
<text transform="translate(1000.6 1385.9) scale(0.9800 1)" font-size="25" text-anchor="end" fill="#4d4d4d">0.2</text>
<text transform="translate(1000.6 1242.7) scale(0.9800 1)" font-size="25" text-anchor="end" fill="#4d4d4d">0.3</text>
<text transform="translate(1000.6 1099.5) scale(0.9800 1)" font-size="25" text-anchor="end" fill="#4d4d4d">0.4</text>
</g>
<g id="labels">
<text transform="translate(28.21 31.75) scale(0.9375 1)" font-size="36.57" font-weight="bold" fill="#222221">a</text>
<text transform="translate(911.36 32) scale(1.0575 1)" font-size="36.22" font-weight="bold" fill="#222221">b</text>
<text transform="translate(28.84 934.5) scale(1.0223 1)" font-size="36.39" font-weight="bold" fill="#222221">c</text>
<text transform="translate(914.55 934.5) scale(1.0266 1)" font-size="37.31" font-weight="bold" fill="#222221">d</text>
<text transform="translate(144.51 57) scale(0.9358 1)" font-size="33.78" fill="#000">Tumor</text>
<text transform="translate(531.85 57) scale(1.0471 1)" font-size="32.34" fill="#000">Normal</text>
<text transform="translate(47 382.05) rotate(-90) scale(1.0134 1)" font-size="32.34" fill="#000">Unique to cell type</text>
<text transform="translate(51.25 676.76) rotate(-90) scale(0.9570 1)" font-size="34.38" fill="#000">shared</text>
<text transform="translate(155 259.25) scale(0.9924 1)" font-size="43.38" font-weight="bold" fill="#222221">429</text>
<text transform="translate(155.07 635) scale(0.9973 1)" font-size="43.73" font-weight="bold" fill="#222221">525</text>
<text transform="translate(535.25 378) scale(1.0160 1)" font-size="43.38" font-weight="bold" fill="#222221">1697</text>
<text transform="translate(552.32 748) scale(0.9779 1)" font-size="44.44" font-weight="bold" fill="#222221">525</text>
<text transform="translate(1276.93 865.25) scale(1.0329 1)" font-size="30.16" fill="#000">distance (bp)</text>
<text transform="translate(918.3 541.55) rotate(-90) scale(0.9996 1)" font-size="30.91" fill="#000">−log10(P−value)</text>
<text transform="translate(1543.3 133.7) scale(1.0070 1)" font-size="24.65" fill="#000">tissue−specific</text>
<text transform="translate(1542.91 160.8) scale(1.0250 1)" font-size="24.37" fill="#000">shared</text>
<text transform="translate(131.36 958.1) scale(0.9178 1)" font-size="22.33" fill="#000">Shared</text>
<text transform="translate(131.69 1001) scale(0.8798 1)" font-size="22.74" fill="#000">Tumor specific</text>
<text transform="translate(130.39 1044) scale(0.9207 1)" font-size="22.33" fill="#000">Normal specific</text>
<text transform="translate(338.54 1762.7) scale(0.9630 1)" font-size="26.01" fill="#000">Normal TE−eQTL slope</text>
<text transform="translate(21.6 1537.62) rotate(-90) scale(1.0694 1)" font-size="25.33" fill="#000">Tumor TE−eQTL slope</text>
<text transform="translate(1157.5 1036.25) scale(1.0309 1)" font-size="29.96" fill="#000">Wilcoxon, p = 2.5e−11</text>
<text transform="translate(918.75 1584.5) rotate(-90) scale(0.9789 1)" font-size="31.66" fill="#000">Absolute value difference between</text>
<text transform="translate(951.75 1533.94) rotate(-90) scale(0.9823 1)" font-size="31.66" fill="#000">normal and tumor medians</text>
<text transform="translate(1180.41 1725) scale(0.9986 1)" font-size="24.92" fill="#4d4d4d">shared</text>
<text transform="translate(1476.75 1725) scale(0.9743 1)" font-size="25.46" fill="#4d4d4d">tumor−specific</text>
</g>
</svg></body></html>
